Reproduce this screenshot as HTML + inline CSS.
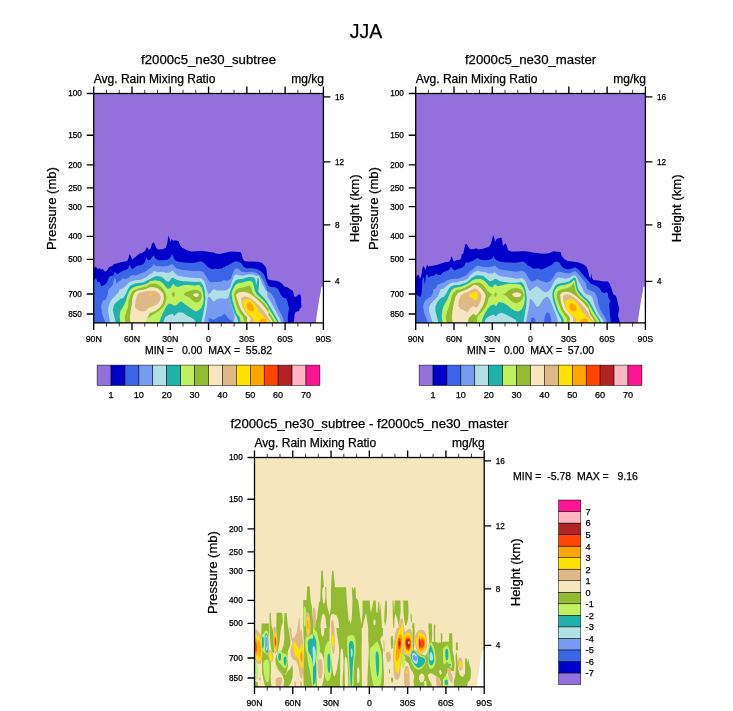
<!DOCTYPE html>
<html lang="en">
<head>
<meta charset="utf-8">
<title>JJA</title>
<style>
html,body{margin:0;padding:0;background:#fff;}
body{width:733px;height:711px;overflow:hidden;}
svg{display:block;}
text{font-family:"Liberation Sans", Arial, Helvetica, sans-serif;fill:#000;white-space:pre;stroke:#000;stroke-width:0.25px;}
</style>
</head>
<body>
<svg width="733" height="711" viewBox="0 0 733 711">
<defs><clipPath id="clipP"><rect x="93.7" y="93.5" width="229.70" height="229.40"/></clipPath></defs>
<rect width="733" height="711" fill="#fff"/>
<text x="366" y="38.3" font-size="19.5" text-anchor="middle">JJA</text>
<g transform="translate(0.00,0.00)">
<rect x="93.7" y="93.5" width="229.70" height="229.40" fill="#9370DB"/>
<g clip-path="url(#clipP)">
<path d="M93.0 268.2L94.4 268.2L95.7 266.6L97.6 268.9L99.5 268.2L101.4 269.8L102.7 268.9L104.9 271.7L107.1 270.4L109.0 267.3L112.2 266.0L114.1 263.9L116.6 263.5L119.7 262.6L123.5 261.8L127.3 260.9L128.6 257.8L129.6 254.0L130.8 255.9L132.4 259.7L134.3 257.8L137.5 255.3L139.4 253.7L142.5 252.7L145.1 250.8L147.0 247.0L148.5 249.6L150.5 248.9L152.0 243.9L153.3 242.3L154.8 243.9L156.1 247.7L158.2 249.6L162.7 249.2L165.8 247.7L167.1 243.9L168.0 238.8L168.6 235.6L169.6 238.8L170.3 242.0L171.5 239.1L173.4 240.7L175.9 240.3L178.5 241.3L180.4 245.8L182.3 247.7L186.7 250.2L191.8 251.5L196.8 251.2L200.6 250.8L204.4 251.2L209.5 252.1L214.6 252.7L215.1 253.4L220.1 254.0L225.2 252.7L230.3 251.5L235.3 251.7L240.4 252.1L241.6 254.0L242.7 258.4L244.2 260.9L248.0 261.6L253.0 261.6L258.1 261.8L261.9 262.8L264.4 265.4L266.3 267.9L266.9 274.2L267.8 279.3L271.3 280.3L276.4 280.8L279.6 281.8L282.1 283.7L284.0 286.3L287.8 287.5L290.3 289.4L292.8 290.7L293.9 294.5L294.7 297.0L296.6 296.4L298.5 294.5L300.2 294.2L301.1 297.0L301.1 303.4L301.5 307.2L299.8 308.4L299.2 310.9L297.3 311.6L295.4 312.2L294.4 314.7L293.9 323.6L93.0 324.0Z" fill="#0000C8"/>
<path d="M93.0 279.9L94.4 279.9L96.1 278.0L97.6 282.5L99.5 281.8L101.4 286.3L103.3 285.6L105.2 284.4L107.1 282.5L108.4 278.0L110.3 276.1L113.4 275.5L114.7 271.7L115.9 273.0L117.2 274.2L120.4 272.3L123.5 270.4L126.7 269.8L128.0 268.5L129.5 264.7L130.8 267.3L132.4 269.2L134.9 267.3L137.5 265.4L140.6 265.4L143.2 264.1L145.1 261.6L146.3 257.2L148.0 260.3L150.1 259.7L152.0 257.2L153.3 255.3L154.8 257.2L155.7 259.1L158.9 260.3L162.7 260.3L167.7 259.7L170.3 257.8L171.8 254.0L173.0 255.9L174.7 259.7L177.2 261.6L181.6 262.2L188.0 262.8L193.0 263.1L196.8 262.2L200.6 261.3L203.2 262.2L205.7 264.7L208.2 267.3L212.0 269.2L215.8 268.5L217.6 268.9L221.4 268.5L225.2 266.6L229.0 264.7L232.8 262.6L235.3 261.3L238.5 261.8L241.6 263.5L243.2 266.6L246.7 268.2L251.8 268.2L256.8 268.9L260.6 271.1L263.8 274.2L265.0 276.8L266.5 281.2L268.2 285.6L270.7 286.9L275.1 287.2L277.7 288.8L279.6 292.0L280.8 295.1L283.4 297.7L285.9 298.3L287.2 300.8L288.0 304.6L289.1 308.4L288.4 312.2L287.8 317.3L287.8 323.6L93.0 324.0Z" fill="#3C64E6"/>
<path d="M105.8 323.6L103.9 318.5L102.0 313.5L101.1 305.9L102.7 300.8L105.8 299.6L107.7 294.5L108.4 289.4L110.9 286.9L112.8 285.0L114.1 279.3L114.8 277.4L115.7 279.3L116.3 283.7L118.5 281.8L121.0 279.9L122.9 278.0L124.8 279.3L128.0 278.0L130.3 276.1L133.0 274.9L135.6 275.5L138.7 274.2L141.9 273.0L144.4 272.3L147.0 270.4L148.9 268.5L150.8 267.9L153.3 264.7L154.6 264.1L154.4 265.4L157.6 266.0L162.7 266.6L167.7 266.0L170.9 264.7L172.5 264.1L174.1 266.0L176.6 268.5L181.6 269.8L188.0 270.4L194.3 271.1L199.4 270.7L203.2 271.7L205.7 275.5L208.2 279.9L210.8 282.5L214.6 281.8L217.0 282.1L221.4 281.6L223.9 279.9L227.7 280.8L230.9 278.7L232.8 273.0L234.7 269.2L236.6 268.2L239.1 269.4L241.6 271.7L246.7 272.3L251.8 271.7L256.8 273.0L260.6 276.1L263.2 280.6L265.7 285.6L266.9 290.7L269.4 292.6L272.0 294.5L273.9 297.7L275.8 302.1L277.0 305.9L278.9 310.3L281.5 314.7L283.4 319.2L284.0 323.6Z" fill="#789BF2"/>
<path d="M110.3 323.6L109.0 316.0L108.0 309.7L109.0 304.6L110.9 300.8L112.8 298.3L115.3 295.8L118.5 292.6L119.7 289.4L122.9 288.2L126.1 285.6L129.2 282.5L131.8 281.2L135.6 279.9L140.0 279.9L143.2 278.7L147.0 276.8L149.5 274.2L152.7 273.0L152.5 271.7L154.4 271.1L157.6 272.3L162.7 271.7L166.5 273.0L170.3 272.3L172.8 270.4L174.7 273.0L177.8 275.5L182.9 276.8L189.2 277.4L195.6 278.0L200.6 278.0L203.8 280.6L205.7 285.6L207.0 290.7L208.2 294.5L210.8 292.6L212.5 290.1L214.4 289.2L217.0 290.7L220.1 290.4L223.9 290.7L227.7 289.4L230.3 286.9L232.2 280.6L234.1 276.1L235.9 274.5L239.1 275.3L242.9 275.8L248.0 274.5L253.0 274.2L256.2 276.1L258.1 275.3L260.0 278.0L261.9 283.1L264.4 288.2L267.0 292.0L267.5 297.0L270.1 300.8L272.6 305.3L275.1 309.7L277.7 314.7L280.2 319.2L281.5 323.6Z" fill="#B0E0E6"/>
<path d="M203.8 323.6L205.7 313.5L207.0 305.9L207.6 298.3L208.9 296.4L210.8 298.3L212.5 300.8L214.4 301.5L217.0 298.9L221.4 298.3L225.2 298.9L227.7 298.3L229.2 295.1L230.9 302.1L232.8 309.7L234.7 316.0L234.1 323.6Z" fill="#789BF2"/>
<path d="M208.7 323.6L208.7 317.9L210.0 318.5L213.8 319.8L217.6 317.3L221.4 316.0L224.6 313.5L226.5 316.0L229.0 319.2L232.2 321.1L233.4 323.6Z" fill="#3C64E6"/>
<path d="M115.9 323.6L114.1 316.0L112.8 309.7L114.1 304.6L117.2 301.5L120.4 298.9L123.5 297.7L126.1 293.2L128.0 288.8L130.5 285.6L134.3 283.7L138.1 283.1L143.2 282.5L147.0 280.6L150.8 278.7L152.5 277.4L156.3 276.1L161.4 276.8L163.9 278.7L166.5 281.2L169.0 281.8L170.9 278.7L172.8 277.4L174.7 278.7L177.2 279.9L182.9 281.2L189.2 281.6L195.6 282.1L200.6 281.8L203.2 285.6L204.7 290.7L205.4 298.3L204.7 305.9L203.2 313.5L201.3 323.6Z" fill="#20B2AA"/>
<path d="M162.7 323.6L165.2 317.3L169.0 314.7L172.8 314.1L174.7 316.0L175.9 314.1L179.1 312.2L182.9 312.8L186.7 315.4L190.5 317.3L194.3 319.8L196.2 323.6Z" fill="#B0E0E6"/>
<path d="M238.5 323.6L237.2 317.9L234.7 314.1L232.5 307.8L230.5 300.8L229.2 294.2L230.9 289.4L232.8 284.4L235.3 280.6L238.5 279.3L242.9 278.7L246.7 277.4L250.5 276.8L253.7 277.4L255.3 279.3L256.2 285.6L257.8 278.0L258.7 278.7L259.1 283.1L258.7 288.2L258.1 291.3L260.6 294.5L264.4 298.3L268.2 303.4L267.5 302.7L270.7 307.8L273.9 313.5L277.0 318.5L279.2 323.6Z" fill="#20B2AA"/>
<path d="M120.4 323.6L119.7 316.0L120.4 310.9L123.5 305.9L126.1 300.8L127.3 295.8L129.2 291.3L131.8 288.2L136.2 286.3L140.6 285.6L144.4 284.4L148.2 283.1L150.0 281.2L155.1 280.3L160.1 281.2L162.7 283.1L165.2 286.3L167.7 288.8L170.3 288.2L172.2 285.0L173.4 283.7L174.7 285.6L177.2 286.9L180.4 286.3L184.2 285.0L189.2 285.0L194.3 285.4L199.4 285.0L201.9 288.2L203.2 293.2L203.8 298.3L203.2 303.4L201.3 307.8L198.7 310.3L195.6 311.6L193.0 309.7L189.2 307.2L185.4 304.6L181.6 301.5L179.7 302.1L177.2 304.6L174.7 305.9L172.2 304.6L169.0 303.4L167.1 305.3L165.2 308.4L162.7 313.5L160.8 317.9L158.9 323.6Z" fill="#BEF060"/>
<path d="M241.0 323.6L239.7 317.3L236.6 313.5L234.7 307.8L232.5 300.8L231.5 293.9L232.8 289.4L235.3 285.0L238.5 283.1L242.9 282.5L246.7 281.2L249.9 280.8L252.4 282.1L253.7 285.6L254.9 290.7L256.8 294.5L260.6 297.7L264.4 301.5L268.2 306.5L268.2 307.2L272.0 313.5L275.1 318.5L277.7 323.6Z" fill="#BEF060"/>
<path d="M125.4 323.6L124.8 317.3L126.1 312.2L128.0 307.2L128.6 300.8L130.5 294.5L133.0 290.7L137.5 288.8L141.9 287.5L147.0 286.3L150.0 283.7L153.8 283.4L157.6 284.6L161.4 286.9L163.9 290.1L165.8 293.9L166.5 298.3L165.2 303.4L162.7 307.8L158.9 310.9L155.1 313.5L150.0 316.6L147.0 318.5L145.7 323.6Z" fill="#93BB32"/>
<path d="M172.5 292.6L174.1 292.0L175.1 293.9L174.3 296.4L172.8 296.8L171.8 294.5Z" fill="#93BB32"/>
<path d="M183.5 293.9L186.1 292.0L190.5 290.7L194.3 289.7L198.1 290.1L200.6 292.0L201.9 295.1L201.3 298.9L199.4 301.5L196.2 302.7L193.7 301.5L191.1 298.9L188.6 297.0L185.4 295.8Z" fill="#93BB32"/>
<path d="M244.8 323.6L242.9 316.6L239.7 312.8L237.2 307.2L235.3 300.8L234.1 294.5L235.3 290.7L238.5 288.2L242.9 287.5L246.7 286.3L249.5 285.6L251.1 287.5L252.4 292.0L254.3 295.1L257.5 297.7L261.3 300.8L265.1 304.6L268.9 309.7L268.2 310.9L271.3 316.0L274.5 321.1L275.4 323.6Z" fill="#93BB32"/>
<path d="M130.5 323.6L129.9 317.3L130.5 310.9L131.8 304.6L132.4 298.3L133.7 293.9L136.2 291.3L140.6 290.1L144.4 289.4L149.5 287.5L150.0 286.9L153.8 287.2L157.6 288.2L160.8 290.7L163.3 293.9L163.9 298.3L162.7 303.4L160.1 307.2L156.3 310.3L152.5 312.2L150.0 312.8L147.0 318.5L145.7 323.6Z" fill="#F5E6BE"/>
<path d="M193.0 294.5L194.9 293.2L197.5 293.2L199.1 294.5L198.1 296.4L195.6 297.0L193.7 296.0Z" fill="#F5E6BE"/>
<path d="M246.7 323.6L247.3 317.3L244.2 314.1L241.0 309.7L238.9 304.6L237.2 299.6L235.9 295.1L238.5 292.6L242.9 291.7L246.7 292.2L250.5 293.9L254.3 297.0L258.1 300.2L261.9 304.0L265.7 308.4L268.9 312.8L268.2 314.7L271.3 319.2L273.6 323.6Z" fill="#F5E6BE"/>
<path d="M134.9 305.9L135.6 300.8L136.8 295.8L138.7 293.0L143.2 292.0L147.0 291.3L150.8 290.7L150.0 291.3L153.8 290.7L157.0 291.7L159.5 293.9L160.8 297.0L159.9 300.8L157.6 304.0L153.8 305.9L150.0 307.2L147.0 309.1L145.7 310.9L142.5 311.6L140.0 310.9L137.5 309.7L135.6 308.4Z" fill="#DEB887"/>
<path d="M249.9 323.6L250.5 317.9L248.0 315.4L244.8 311.6L242.7 307.2L241.4 302.1L241.0 297.7L244.2 296.4L248.0 297.0L251.8 298.9L255.6 302.1L259.4 305.9L263.2 310.3L266.3 314.7L268.2 317.9L270.7 321.1L272.0 323.6Z" fill="#DEB887"/>
<path d="M149.2 294.1L152.0 294.1L150.8 296.6Z" fill="#FFE100"/>
<path d="M253.7 323.6L253.7 319.2L251.1 316.6L248.0 314.1L245.2 310.3L243.5 305.9L243.5 300.8L246.7 298.9L250.5 299.8L253.7 302.7L256.2 306.5L258.7 310.9L261.9 314.7L265.7 317.9L267.5 319.8L270.1 321.7L270.7 323.6Z" fill="#FFE100"/>
<path d="M246.7 304.6L248.0 302.7L250.3 302.1L252.4 304.6L254.3 308.4L253.7 310.9L251.1 311.6L248.6 310.3L247.0 307.8Z" fill="#FFA500"/>
<path d="M259.4 323.6L259.4 321.1L260.6 319.2L263.8 318.5L267.0 319.8L265.0 319.8L266.9 321.5L267.5 323.6Z" fill="#FFA500"/>
<path d="M321.3 286.6L324.5 286.6L324.5 323.6L315.9 323.6L316.3 318.5L317.2 312.2L318.2 305.9L319.4 298.3L320.7 292.0Z" fill="#fff"/>
</g>
<rect x="93.7" y="93.5" width="229.70" height="229.40" fill="none" stroke="#000" stroke-width="1.3"/>
<path d="M93.70 322.9v7 M93.70 93.5v-7 M131.98 322.9v7 M131.98 93.5v-7 M170.27 322.9v7 M170.27 93.5v-7 M208.55 322.9v7 M208.55 93.5v-7 M246.83 322.9v7 M246.83 93.5v-7 M285.12 322.9v7 M285.12 93.5v-7 M323.40 322.9v7 M323.40 93.5v-7 M93.7 93.50h-7 M93.7 135.28h-7 M93.7 164.92h-7 M93.7 187.91h-7 M93.7 206.69h-7 M93.7 236.34h-7 M93.7 259.33h-7 M93.7 294.00h-7 M93.7 314.00h-7 M323.4 96.90h7 M323.4 161.90h7 M323.4 224.80h7 M323.4 281.40h7" stroke="#000" stroke-width="1.35" fill="none"/>
<path d="M106.46 322.9v3.7 M106.46 93.5v-3.7 M119.22 322.9v3.7 M119.22 93.5v-3.7 M144.74 322.9v3.7 M144.74 93.5v-3.7 M157.51 322.9v3.7 M157.51 93.5v-3.7 M183.03 322.9v3.7 M183.03 93.5v-3.7 M195.79 322.9v3.7 M195.79 93.5v-3.7 M221.31 322.9v3.7 M221.31 93.5v-3.7 M234.07 322.9v3.7 M234.07 93.5v-3.7 M259.59 322.9v3.7 M259.59 93.5v-3.7 M272.36 322.9v3.7 M272.36 93.5v-3.7 M297.88 322.9v3.7 M297.88 93.5v-3.7 M310.64 322.9v3.7 M310.64 93.5v-3.7" stroke="#000" stroke-width="0.75" fill="none"/>
<text x="81.9" y="96.40" font-size="8.2" text-anchor="end">100</text>
<text x="81.9" y="138.18" font-size="8.2" text-anchor="end">150</text>
<text x="81.9" y="167.82" font-size="8.2" text-anchor="end">200</text>
<text x="81.9" y="190.81" font-size="8.2" text-anchor="end">250</text>
<text x="81.9" y="209.59" font-size="8.2" text-anchor="end">300</text>
<text x="81.9" y="239.24" font-size="8.2" text-anchor="end">400</text>
<text x="81.9" y="262.23" font-size="8.2" text-anchor="end">500</text>
<text x="81.9" y="296.90" font-size="8.2" text-anchor="end">700</text>
<text x="81.9" y="316.90" font-size="8.2" text-anchor="end">850</text>
<text x="335" y="99.80" font-size="8.2">16</text>
<text x="335" y="164.80" font-size="8.2">12</text>
<text x="335" y="227.70" font-size="8.2">8</text>
<text x="335" y="284.30" font-size="8.2">4</text>
<text x="93.70" y="341.7" font-size="8.8" text-anchor="middle">90N</text>
<text x="131.98" y="341.7" font-size="8.8" text-anchor="middle">60N</text>
<text x="170.27" y="341.7" font-size="8.8" text-anchor="middle">30N</text>
<text x="208.55" y="341.7" font-size="8.8" text-anchor="middle">0</text>
<text x="246.83" y="341.7" font-size="8.8" text-anchor="middle">30S</text>
<text x="285.12" y="341.7" font-size="8.8" text-anchor="middle">60S</text>
<text x="323.40" y="341.7" font-size="8.8" text-anchor="middle">90S</text>
<text transform="translate(56.4,208.5) rotate(-90)" font-size="13.1" text-anchor="middle">Pressure (mb)</text>
<text transform="translate(359.3,208.3) rotate(-90)" font-size="13.1" text-anchor="middle">Height (km)</text>
<text x="208.55" y="64" font-size="13.2" text-anchor="middle">f2000c5_ne30_subtree</text>
<text x="93.7" y="83" font-size="12.05" text-anchor="start">Avg. Rain Mixing Ratio</text>
<text x="324.0" y="83" font-size="12.05" text-anchor="end">mg/kg</text>
</g>
<g transform="translate(322.00,0.00)">
<rect x="93.7" y="93.5" width="229.70" height="229.40" fill="#9370DB"/>
<g clip-path="url(#clipP)">
<path d="M93.0 276.8L94.4 276.8L95.7 274.5L97.0 275.5L98.2 279.3L99.5 274.2L100.4 267.9L101.6 266.0L102.7 267.9L103.3 270.4L104.6 266.0L105.4 264.7L106.5 266.6L109.0 266.0L112.2 265.4L115.3 264.7L119.1 263.5L122.9 262.2L127.3 261.6L128.6 259.1L129.6 256.3L130.5 258.4L131.8 261.6L134.3 260.3L137.5 259.7L139.1 258.4L139.6 254.6L141.3 253.4L142.2 248.9L143.2 244.5L144.4 243.9L145.7 245.8L147.0 248.3L149.5 249.6L152.0 248.9L154.6 248.3L156.3 249.6L160.1 248.9L163.9 247.7L166.5 247.0L168.4 245.1L169.6 241.3L170.5 237.5L171.3 235.0L172.2 237.5L173.0 242.0L174.1 239.4L175.3 238.5L177.2 238.2L179.1 237.3L180.1 240.1L181.0 246.4L182.3 244.5L183.5 243.2L184.8 245.8L186.1 250.2L189.2 251.5L194.3 251.5L199.4 251.2L203.2 251.2L207.0 251.7L212.0 252.7L215.1 253.0L220.1 253.7L225.2 253.4L229.0 252.5L231.5 251.2L235.3 251.7L238.5 252.1L239.7 255.9L241.6 258.4L245.4 260.9L250.5 261.6L255.6 262.2L260.6 263.9L264.4 266.6L266.3 271.7L267.3 276.8L268.5 278.7L269.2 273.6L270.1 278.0L271.3 279.9L276.4 280.6L281.5 281.6L285.3 281.2L287.2 283.1L289.1 286.9L290.3 291.3L291.6 294.5L293.9 295.8L295.1 299.6L296.0 304.0L297.3 308.4L296.6 312.2L296.0 316.0L297.3 319.8L298.2 323.6L93.0 324.0Z" fill="#0000C8"/>
<path d="M93.0 294.5L94.4 294.5L96.3 295.8L98.2 297.0L99.5 294.5L100.1 288.2L100.4 280.6L101.1 276.8L102.0 278.7L102.7 284.4L103.3 281.8L103.9 275.5L105.2 274.2L106.5 277.4L109.0 276.1L112.2 275.5L114.7 273.6L115.9 274.9L118.5 274.9L121.0 272.3L124.2 271.1L127.3 269.8L129.2 266.6L130.5 268.5L132.4 270.4L134.9 269.2L138.1 268.2L140.6 267.3L142.5 265.4L143.8 262.2L145.7 262.8L148.2 261.8L152.0 260.3L154.6 258.4L155.1 258.0L158.9 259.7L162.7 260.3L167.7 259.7L170.3 258.4L171.5 255.9L172.8 258.4L174.7 260.3L177.8 261.6L182.9 262.2L188.0 262.6L193.0 262.8L196.8 262.2L200.6 261.6L203.2 262.8L205.7 265.4L208.2 266.6L210.8 268.5L213.3 268.5L216.3 268.2L219.5 269.4L222.7 268.2L226.5 266.4L229.6 264.7L232.2 262.6L234.7 261.6L237.2 262.6L239.1 265.4L241.6 267.9L246.1 269.4L250.5 268.2L253.0 267.3L256.2 269.2L258.7 271.7L261.3 274.9L263.8 278.0L266.9 281.2L268.8 283.7L272.0 285.0L275.1 286.3L277.7 288.2L279.6 292.0L282.7 293.2L284.0 292.0L285.9 293.2L286.5 298.3L288.4 300.8L287.2 304.0L287.5 308.4L287.8 313.5L288.4 318.5L288.8 323.6L93.0 324.0Z" fill="#3C64E6"/>
<path d="M105.8 323.6L103.9 317.3L102.0 312.2L101.1 305.9L102.7 301.5L105.8 298.3L109.0 296.4L110.9 293.2L111.5 289.4L114.1 288.2L115.3 285.0L117.8 283.7L121.6 282.8L124.8 280.6L128.0 279.3L131.8 278.7L135.6 278.7L139.4 277.4L143.2 276.1L146.3 273.6L148.2 271.1L150.8 269.2L153.3 267.3L155.1 265.4L157.6 266.0L161.4 266.9L166.5 267.3L170.3 266.4L172.8 265.4L174.7 267.3L177.2 269.2L182.9 270.2L188.0 271.1L194.3 271.7L199.4 270.7L202.5 271.7L205.1 275.5L207.6 279.9L210.1 281.8L213.3 280.6L215.1 279.1L217.6 280.3L221.4 281.8L225.2 282.5L229.0 280.6L231.5 276.8L233.4 273.6L235.9 271.7L239.1 272.0L242.9 273.0L246.7 273.6L250.5 272.3L253.0 271.1L255.6 273.0L258.1 276.1L260.6 279.3L263.8 283.1L265.0 288.8L267.5 290.1L270.1 291.3L272.6 292.6L274.5 295.8L275.8 299.6L276.4 304.0L277.7 308.4L279.6 312.2L282.1 316.0L284.0 319.2L285.0 323.6Z" fill="#789BF2"/>
<path d="M110.9 323.6L109.0 317.3L107.1 310.9L107.1 307.2L109.0 303.4L112.2 300.2L115.3 297.0L117.2 293.2L118.5 289.4L121.6 288.8L124.2 286.3L127.3 283.7L130.5 282.5L134.3 282.5L138.1 281.2L141.9 280.6L145.7 278.7L148.2 275.5L150.8 273.0L153.3 271.7L155.7 270.4L158.9 271.7L162.7 272.0L166.5 273.6L170.3 273.6L172.8 272.3L174.7 274.2L177.8 276.1L182.9 276.8L188.0 277.4L194.3 278.7L200.0 278.0L203.2 280.6L205.1 285.6L207.0 290.7L208.2 290.7L210.8 288.8L213.3 286.9L215.1 286.3L217.6 288.2L220.8 291.3L223.9 292.6L227.1 290.7L229.6 286.9L231.5 282.5L234.1 278.7L236.6 277.4L240.4 278.0L244.2 278.7L248.0 277.4L251.1 275.5L253.7 275.5L255.6 278.7L256.8 281.8L258.7 285.0L260.6 288.2L261.9 292.0L264.4 294.5L265.0 294.5L267.5 295.1L270.1 297.0L271.3 300.8L272.6 305.3L274.5 309.7L276.4 313.5L278.9 317.3L280.8 319.8L282.1 323.6Z" fill="#B0E0E6"/>
<path d="M203.8 323.6L205.7 313.5L207.2 305.9L208.0 298.3L210.8 300.8L213.3 304.6L215.1 307.2L217.6 305.3L220.1 300.8L222.7 297.7L225.2 296.4L227.1 298.3L229.0 302.1L230.9 307.2L233.4 313.5L235.3 317.9L235.9 323.6Z" fill="#789BF2"/>
<path d="M222.0 323.6L222.7 317.3L223.9 313.5L225.8 312.2L227.7 314.1L229.0 318.5L229.6 323.6Z" fill="#3C64E6"/>
<path d="M208.7 323.6L208.7 318.5L211.3 317.3L213.2 319.2L213.8 323.6Z" fill="#3C64E6"/>
<path d="M116.6 323.6L114.7 316.0L113.4 310.9L113.4 306.5L115.3 302.1L118.5 298.3L122.3 296.4L124.8 292.6L126.7 288.8L129.2 286.3L133.0 285.0L136.8 285.0L140.6 283.7L144.4 282.5L147.6 279.9L150.1 277.4L153.3 276.1L153.2 275.5L157.6 275.3L161.4 276.1L164.6 278.7L167.7 281.2L170.9 280.6L172.8 278.7L174.7 279.3L177.8 281.2L182.9 282.1L188.0 282.8L194.3 282.8L199.4 282.1L201.9 285.0L203.8 290.7L204.7 298.3L204.2 305.9L202.9 313.5L201.3 323.6Z" fill="#20B2AA"/>
<path d="M162.0 323.6L163.9 318.5L167.7 316.0L171.5 314.7L174.1 316.6L175.9 314.1L179.1 312.8L182.9 314.1L186.7 316.0L190.5 317.9L193.7 319.8L195.6 323.6Z" fill="#B0E0E6"/>
<path d="M239.7 323.6L239.1 319.2L237.2 316.0L234.7 310.9L232.5 305.3L230.9 299.6L230.3 293.9L231.3 289.4L233.4 285.6L235.9 283.7L239.7 283.1L243.5 282.5L247.3 281.2L249.9 279.3L251.8 277.4L253.7 278.0L254.6 281.2L255.3 285.6L256.2 289.4L258.7 292.6L261.9 296.4L265.7 299.6L267.5 301.5L270.1 305.9L272.6 310.9L275.1 315.4L277.7 319.2L279.6 323.6Z" fill="#20B2AA"/>
<path d="M120.4 323.6L119.7 316.0L120.4 309.7L122.3 304.6L125.4 299.6L127.3 294.5L129.2 290.7L131.8 288.2L135.6 287.2L139.4 286.6L143.2 285.0L147.0 283.1L150.1 280.6L153.3 279.1L153.8 279.3L158.2 278.7L162.0 280.6L164.6 283.1L167.1 286.3L170.3 287.5L172.2 285.0L173.8 284.4L175.3 286.3L179.1 285.6L182.9 284.6L188.0 283.7L193.0 284.1L198.1 284.6L200.6 286.9L202.5 292.0L202.9 298.3L202.2 304.0L200.0 309.1L196.8 311.6L193.0 310.9L189.2 308.4L185.4 305.3L181.0 302.7L177.2 302.1L175.3 304.0L174.1 306.5L172.2 304.6L169.0 305.3L165.8 308.4L163.3 312.8L160.8 317.9L159.5 323.6Z" fill="#BEF060"/>
<path d="M241.6 323.6L241.6 319.2L239.7 316.0L236.8 311.6L234.7 305.9L232.8 299.6L231.8 293.9L233.0 290.1L235.3 286.9L238.5 285.6L242.9 285.0L246.7 283.7L249.9 282.1L251.5 279.9L253.0 281.2L253.7 285.6L254.6 290.1L257.1 293.9L260.6 297.7L264.4 300.8L267.5 305.3L270.7 310.9L273.9 316.0L276.4 319.8L277.9 323.6Z" fill="#BEF060"/>
<path d="M124.8 323.6L123.9 317.3L124.8 312.2L126.7 307.2L128.6 300.8L129.9 295.8L131.8 292.6L134.9 290.1L138.7 289.4L143.2 287.5L147.0 285.6L150.1 283.7L153.8 282.8L157.6 282.5L160.8 284.4L163.3 287.5L165.8 291.3L168.4 293.2L170.3 294.5L168.4 296.4L166.5 298.3L165.2 303.4L162.7 308.4L159.5 312.2L156.3 315.4L155.1 318.5L154.8 323.6Z" fill="#93BB32"/>
<path d="M172.5 293.2L173.8 292.2L174.8 293.9L174.3 296.4L173.0 297.0L172.0 295.1Z" fill="#93BB32"/>
<path d="M180.4 294.2L183.5 293.2L186.1 290.7L189.2 288.8L193.7 287.9L198.1 288.8L200.6 291.3L201.9 295.1L200.6 298.9L198.1 301.8L194.3 303.4L190.5 302.1L187.3 298.9L184.8 296.4L182.3 295.1Z" fill="#93BB32"/>
<path d="M245.4 323.6L244.8 317.9L242.3 314.7L239.4 310.3L237.2 305.3L235.3 299.6L234.7 294.5L235.9 291.3L238.5 289.4L242.9 288.8L246.7 287.5L249.9 285.6L251.8 282.5L252.8 285.6L253.3 290.1L255.6 294.5L258.7 297.7L262.5 300.8L266.3 304.6L268.2 310.9L271.3 316.0L273.9 319.8L275.8 323.6Z" fill="#93BB32"/>
<path d="M130.5 323.6L129.9 317.3L130.3 312.2L131.1 307.2L132.4 300.8L133.7 296.4L135.6 293.2L138.7 291.7L143.2 290.1L147.0 288.2L150.8 285.6L152.5 284.4L155.7 285.6L158.9 288.2L162.0 292.0L163.7 295.8L162.7 300.8L160.8 305.9L158.2 310.3L155.7 314.1L153.8 315.4L151.3 313.5L149.5 315.4L146.7 317.9L145.7 323.6Z" fill="#F5E6BE"/>
<path d="M189.9 294.2L191.8 293.0L194.9 292.3L198.1 293.2L199.6 294.7L198.1 296.4L194.9 297.3L191.8 296.8Z" fill="#F5E6BE"/>
<path d="M247.3 323.6L248.0 319.2L247.3 316.6L244.4 313.5L241.6 309.7L239.7 304.6L238.5 299.6L238.1 294.5L240.4 292.2L244.2 291.7L248.0 292.2L251.8 294.5L254.9 297.0L258.7 300.2L262.5 304.0L266.3 308.4L268.2 314.7L271.3 319.2L273.6 323.6Z" fill="#F5E6BE"/>
<path d="M136.2 305.9L136.8 300.8L138.7 295.8L141.9 293.2L145.7 292.0L149.5 290.1L152.7 288.2L154.4 288.8L157.0 291.3L159.5 295.1L159.1 299.6L157.6 303.4L155.7 306.5L153.8 307.8L151.3 305.9L148.9 307.8L147.0 309.7L145.7 312.2L143.2 310.9L140.6 309.7L138.1 308.4Z" fill="#DEB887"/>
<path d="M250.5 323.6L251.1 319.2L250.5 316.6L248.0 314.1L244.8 310.3L242.7 305.9L241.4 300.8L241.0 295.8L244.2 294.2L248.0 295.1L251.8 297.0L255.6 300.2L259.4 304.0L263.2 308.4L266.3 312.8L268.2 317.3L270.7 320.4L272.3 323.6Z" fill="#DEB887"/>
<path d="M146.7 294.2L149.5 293.2L152.7 292.0L155.2 292.0L156.1 294.5L155.8 298.3L153.9 300.8L152.0 299.6L150.1 297.7L147.6 297.0Z" fill="#FFE100"/>
<path d="M144.1 300.2L144.9 300.2L144.6 301.5Z" fill="#FFE100"/>
<path d="M253.7 323.6L254.3 320.4L253.7 317.9L251.1 316.0L248.0 313.5L245.2 310.3L243.5 305.9L243.5 301.5L246.1 299.6L249.9 299.3L253.0 300.8L255.6 304.0L258.1 308.4L260.6 312.2L263.8 315.4L267.5 319.2L270.1 321.5L270.7 323.6Z" fill="#FFE100"/>
<path d="M247.3 304.6L249.0 303.1L251.1 303.4L253.7 305.9L254.9 309.1L253.7 310.9L251.1 311.6L248.6 310.3L247.3 307.8Z" fill="#FFA500"/>
<path d="M258.1 323.6L258.7 320.1L260.6 318.8L263.8 318.5L266.3 319.6L265.0 320.1L266.5 321.5L267.3 323.6Z" fill="#FFA500"/>
<path d="M321.3 286.6L324.5 286.6L324.5 323.6L315.9 323.6L316.3 318.5L317.2 312.2L318.2 305.9L319.4 298.3L320.7 292.0Z" fill="#fff"/>
</g>
<rect x="93.7" y="93.5" width="229.70" height="229.40" fill="none" stroke="#000" stroke-width="1.3"/>
<path d="M93.70 322.9v7 M93.70 93.5v-7 M131.98 322.9v7 M131.98 93.5v-7 M170.27 322.9v7 M170.27 93.5v-7 M208.55 322.9v7 M208.55 93.5v-7 M246.83 322.9v7 M246.83 93.5v-7 M285.12 322.9v7 M285.12 93.5v-7 M323.40 322.9v7 M323.40 93.5v-7 M93.7 93.50h-7 M93.7 135.28h-7 M93.7 164.92h-7 M93.7 187.91h-7 M93.7 206.69h-7 M93.7 236.34h-7 M93.7 259.33h-7 M93.7 294.00h-7 M93.7 314.00h-7 M323.4 96.90h7 M323.4 161.90h7 M323.4 224.80h7 M323.4 281.40h7" stroke="#000" stroke-width="1.35" fill="none"/>
<path d="M106.46 322.9v3.7 M106.46 93.5v-3.7 M119.22 322.9v3.7 M119.22 93.5v-3.7 M144.74 322.9v3.7 M144.74 93.5v-3.7 M157.51 322.9v3.7 M157.51 93.5v-3.7 M183.03 322.9v3.7 M183.03 93.5v-3.7 M195.79 322.9v3.7 M195.79 93.5v-3.7 M221.31 322.9v3.7 M221.31 93.5v-3.7 M234.07 322.9v3.7 M234.07 93.5v-3.7 M259.59 322.9v3.7 M259.59 93.5v-3.7 M272.36 322.9v3.7 M272.36 93.5v-3.7 M297.88 322.9v3.7 M297.88 93.5v-3.7 M310.64 322.9v3.7 M310.64 93.5v-3.7" stroke="#000" stroke-width="0.75" fill="none"/>
<text x="81.9" y="96.40" font-size="8.2" text-anchor="end">100</text>
<text x="81.9" y="138.18" font-size="8.2" text-anchor="end">150</text>
<text x="81.9" y="167.82" font-size="8.2" text-anchor="end">200</text>
<text x="81.9" y="190.81" font-size="8.2" text-anchor="end">250</text>
<text x="81.9" y="209.59" font-size="8.2" text-anchor="end">300</text>
<text x="81.9" y="239.24" font-size="8.2" text-anchor="end">400</text>
<text x="81.9" y="262.23" font-size="8.2" text-anchor="end">500</text>
<text x="81.9" y="296.90" font-size="8.2" text-anchor="end">700</text>
<text x="81.9" y="316.90" font-size="8.2" text-anchor="end">850</text>
<text x="335" y="99.80" font-size="8.2">16</text>
<text x="335" y="164.80" font-size="8.2">12</text>
<text x="335" y="227.70" font-size="8.2">8</text>
<text x="335" y="284.30" font-size="8.2">4</text>
<text x="93.70" y="341.7" font-size="8.8" text-anchor="middle">90N</text>
<text x="131.98" y="341.7" font-size="8.8" text-anchor="middle">60N</text>
<text x="170.27" y="341.7" font-size="8.8" text-anchor="middle">30N</text>
<text x="208.55" y="341.7" font-size="8.8" text-anchor="middle">0</text>
<text x="246.83" y="341.7" font-size="8.8" text-anchor="middle">30S</text>
<text x="285.12" y="341.7" font-size="8.8" text-anchor="middle">60S</text>
<text x="323.40" y="341.7" font-size="8.8" text-anchor="middle">90S</text>
<text transform="translate(56.4,208.5) rotate(-90)" font-size="13.1" text-anchor="middle">Pressure (mb)</text>
<text transform="translate(359.3,208.3) rotate(-90)" font-size="13.1" text-anchor="middle">Height (km)</text>
<text x="208.55" y="64" font-size="13.2" text-anchor="middle">f2000c5_ne30_master</text>
<text x="93.7" y="83" font-size="12.05" text-anchor="start">Avg. Rain Mixing Ratio</text>
<text x="324.0" y="83" font-size="12.05" text-anchor="end">mg/kg</text>
</g>
<g transform="translate(160.80,364.00)">
<rect x="93.7" y="93.5" width="229.70" height="229.40" fill="#F5E6BE"/>
<g clip-path="url(#clipP)">
<clipPath id="k1"><rect x="89.20" y="196.00" width="63.00" height="130.00"/></clipPath><g clip-path="url(#k1)"><path d="M100.8 259.4L108.2 259.4L108.4 267.6L108.2 280.3L107.9 290.4L109.5 294.2L110.1 301.8L109.5 311.9L110.5 323.3L105.0 323.3L102.5 314.5L101.2 306.9L101.6 296.8L100.6 290.4L100.3 274.0Z" fill="#93BB32"/>
<path d="M108.8 248.7L109.8 248.7L110.7 261.3L112.2 266.4L113.3 274.0L113.9 284.1L113.3 289.2L111.4 287.9L110.1 284.1L109.2 274.0L108.8 261.3Z" fill="#93BB32"/>
<path d="M115.8 248.7L121.5 248.7L122.1 258.8L120.8 261.3L119.6 268.9L118.9 277.8L117.7 284.1L116.4 289.2L115.1 284.1L115.1 274.0L115.5 261.3Z" fill="#93BB32"/>
<path d="M123.6 249.3L125.9 248.7L126.8 260.1L128.4 268.9L129.7 276.5L129.5 281.6L127.2 286.6L126.5 294.2L127.2 301.8L125.9 308.2L123.4 310.7L120.2 308.2L117.7 304.4L115.1 300.6L114.5 295.5L115.8 290.4L118.3 287.9L120.8 286.6L122.7 281.6L123.6 274.0L123.1 261.3Z" fill="#93BB32"/>
<path d="M114.5 301.8L118.3 306.9L122.1 311.9L123.4 317.0L122.7 323.3L127.2 323.3L129.7 319.5L131.6 314.5L132.2 306.9L131.6 300.6L129.7 304.4L127.2 306.9L124.6 310.7L120.8 309.4L117.7 304.4Z" fill="#93BB32"/>
<path d="M94.0 299.3C94.6 296.8 96.1 299.8 96.8 301.8C97.5 303.8 97.6 306.9 97.4 309.4C97.3 311.9 96.8 313.5 96.2 314.5C95.5 315.5 94.4 317.5 94.0 314.5C93.6 311.4 93.5 301.8 94.0 299.3Z" fill="#BEF060"/>
<path d="M94.0 317.0L96.8 318.3L97.4 323.3L94.0 323.3Z" fill="#93BB32"/>
<path d="M101.6 294.2C102.5 291.2 104.1 291.6 105.7 291.7C107.2 291.8 108.3 292.3 109.2 294.9C110.1 297.4 110.2 300.4 110.2 304.4C110.3 308.3 109.4 310.7 109.5 314.5C109.5 318.3 111.4 321.6 110.5 323.3C109.6 325.1 106.6 325.1 105.0 323.3C103.5 321.6 103.4 317.8 102.6 314.5C101.9 311.2 101.6 310.9 101.4 306.9C101.1 302.8 100.7 297.3 101.6 294.2Z" fill="#93BB32"/>
<path d="M102.9 298.0C103.5 296.3 104.6 295.5 105.7 295.5C106.7 295.5 107.6 296.0 108.2 298.0C108.8 300.1 108.8 302.3 108.8 305.6C108.8 308.9 108.6 311.9 108.2 314.5C107.8 317.0 107.6 317.8 106.9 318.3C106.3 318.8 105.7 318.3 105.0 317.0C104.4 315.7 104.1 314.5 103.6 311.9C103.1 309.4 102.8 307.1 102.6 304.4C102.5 301.6 102.3 299.8 102.9 298.0Z" fill="#BEF060"/>
<path d="M142.4 236.0L145.8 236.0L146.2 222.5L148.9 222.5L149.7 236.0L151.2 243.6L151.9 255.0L153.8 261.3L155.0 268.9L160.1 268.9L160.1 323.3L143.0 323.3L142.4 306.9L143.4 293.0L143.0 277.8L142.4 261.3Z" fill="#93BB32"/>
<path d="M155.0 252.5L160.1 249.9L160.1 268.9L155.0 268.9Z" fill="#93BB32"/>
<path d="M143.0 243.6C143.4 241.6 144.4 242.6 144.9 244.9C145.4 247.1 145.5 251.7 145.5 255.0C145.5 258.3 145.3 259.8 144.9 261.3C144.5 262.8 144.0 263.8 143.6 262.6C143.2 261.3 143.0 258.8 142.9 255.0C142.7 251.2 142.6 245.6 143.0 243.6Z" fill="#BEF060"/>
<path d="M144.9 274.0C145.7 271.4 147.2 272.2 148.7 271.4C150.2 270.7 151.0 270.2 152.5 270.2C154.0 270.2 154.8 270.7 156.3 271.4C157.8 272.2 159.3 263.6 160.1 274.0C160.8 284.4 161.6 313.5 160.1 323.3C158.6 333.2 154.5 325.6 152.5 323.3C150.5 321.1 151.0 316.8 150.0 311.9C148.9 307.1 148.2 303.6 147.4 299.3C146.7 295.0 146.7 293.5 146.2 290.4C145.6 287.4 144.9 287.4 144.6 284.1C144.4 280.8 144.1 276.5 144.9 274.0Z" fill="#BEF060"/>
<path d="M147.4 276.5C148.2 275.1 149.7 274.6 151.2 274.6C152.7 274.6 154.1 274.9 155.0 276.5C156.0 278.2 155.9 279.5 156.0 282.8C156.2 286.1 155.6 288.4 155.7 293.0C155.7 297.5 156.3 300.8 156.3 305.6C156.3 310.4 156.2 314.2 155.7 317.0C155.1 319.8 154.4 320.6 153.8 319.5C153.1 318.5 152.9 316.0 152.5 311.9C152.1 307.9 152.4 303.3 151.9 299.3C151.4 295.2 150.8 294.0 150.0 291.7C149.1 289.4 148.2 289.9 147.7 287.9C147.1 285.9 147.2 283.8 147.2 281.6C147.1 279.3 146.6 277.9 147.4 276.5Z" fill="#20B2AA"/>
<path d="M151.9 283.5C152.2 281.6 153.1 281.8 153.8 282.2C154.4 282.6 155.0 282.5 155.3 285.4C155.6 288.3 155.5 293.5 155.3 296.8C155.1 300.1 154.8 301.3 154.4 301.8C154.0 302.3 153.6 301.3 153.1 299.3C152.7 297.3 152.4 294.9 152.1 291.7C151.9 288.5 151.5 285.4 151.9 283.5Z" fill="#B0E0E6"/>
<path d="M128.4 263.8C128.6 262.3 129.8 263.6 130.3 265.1C130.8 266.6 130.5 269.7 131.0 271.4C131.5 273.2 131.9 274.7 132.9 274.0C133.9 273.2 135.0 271.4 136.0 267.6C137.0 263.8 137.4 257.5 137.9 255.0C138.5 252.5 138.5 252.5 138.8 255.0C139.1 257.5 139.3 265.6 139.6 267.6C139.9 269.7 140.1 264.9 140.5 265.1C140.8 265.4 141.0 266.4 141.4 268.9C141.7 271.4 141.8 273.0 142.1 277.8C142.4 282.6 142.9 287.1 143.0 293.0C143.0 298.8 142.7 302.6 142.4 306.9C142.0 311.2 141.7 313.5 141.1 314.5C140.5 315.5 140.0 314.5 139.2 311.9C138.4 309.4 138.2 304.9 137.3 301.8C136.4 298.8 135.8 298.0 134.8 296.8C133.8 295.5 133.1 296.5 132.2 295.5C131.4 294.5 130.8 293.7 130.3 291.7C129.8 289.7 129.5 287.9 129.7 285.4C130.0 282.8 131.6 281.6 131.6 279.0C131.6 276.5 130.3 275.7 129.7 272.7C129.1 269.7 128.3 265.4 128.4 263.8Z" fill="#DEB887"/>
<path d="M132.9 278.4C133.3 277.3 134.0 277.5 134.8 278.4C135.5 279.3 135.8 281.6 136.7 282.8C137.6 284.1 138.4 285.2 139.2 284.7C140.0 284.2 140.0 281.1 140.5 280.3C141.0 279.5 141.4 278.9 141.7 280.9C142.1 283.0 142.3 286.5 142.4 290.4C142.4 294.4 142.4 297.8 142.1 300.6C141.8 303.3 141.4 304.1 140.8 304.4C140.3 304.6 139.8 303.6 139.2 301.8C138.6 300.1 138.7 297.4 137.9 295.5C137.2 293.6 136.3 293.6 135.4 292.3C134.5 291.1 133.8 290.8 133.3 289.2C132.7 287.5 132.6 286.3 132.5 284.1C132.4 281.9 132.4 279.5 132.9 278.4Z" fill="#FFE100"/>
<path d="M139.8 288.5C140.1 287.5 140.7 287.0 141.1 287.9C141.5 288.8 141.8 290.9 141.9 293.0C141.9 295.0 141.7 297.3 141.4 298.0C141.0 298.8 140.4 297.8 140.1 296.8C139.7 295.7 139.6 294.6 139.6 293.0C139.5 291.3 139.5 289.5 139.8 288.5Z" fill="#FFA500"/>
<path d="M115.1 315.1C115.8 313.1 117.7 313.3 118.9 313.2C120.2 313.1 121.1 313.5 121.5 314.5C121.9 315.5 121.4 316.5 120.8 318.3C120.3 320.1 120.0 322.3 118.9 323.3C117.9 324.4 116.5 325.0 115.8 323.3C115.0 321.7 114.5 317.1 115.1 315.1Z" fill="#DEB887"/>
<path d="M133.5 317.0L135.4 318.3L135.4 323.3L133.5 323.3Z" fill="#DEB887"/>
<path d="M139.2 317.0L141.1 318.3L141.4 323.3L139.2 323.3Z" fill="#DEB887"/>
<path d="M98.1 313.2L100.0 313.8L100.0 316.4L98.1 315.7Z" fill="#DEB887"/>
<path d="M94.0 267.6C94.8 262.5 96.7 267.0 98.1 268.3C99.4 269.5 99.9 270.3 100.6 274.0C101.3 277.6 101.5 282.3 101.6 286.6C101.7 290.9 101.7 292.8 101.2 295.5C100.8 298.2 100.3 299.2 99.3 299.9C98.3 300.7 97.2 300.4 96.2 299.3C95.1 298.2 94.4 300.6 94.0 294.2C93.6 287.9 93.2 272.8 94.0 267.6Z" fill="#DEB887"/>
<path d="M94.0 270.8C94.4 267.3 95.4 271.1 96.2 271.4C97.0 271.8 97.2 271.2 98.1 272.7C98.9 274.2 99.8 275.7 100.3 279.0C100.9 282.3 100.9 286.0 100.8 289.2C100.8 292.3 100.6 293.3 100.1 294.9C99.5 296.4 99.0 296.8 98.1 296.8C97.1 296.8 96.3 296.4 95.5 294.9C94.7 293.3 94.3 294.0 94.0 289.2C93.7 284.4 93.6 274.4 94.0 270.8Z" fill="#FFE100"/>
<path d="M94.0 275.2C94.4 272.7 95.2 274.2 95.8 275.2C96.3 276.3 96.5 277.8 96.8 280.3C97.0 282.8 97.2 285.6 97.0 287.9C96.9 290.2 96.6 291.2 96.2 291.7C95.7 292.2 95.3 291.2 94.9 290.4C94.5 289.7 94.2 290.9 94.0 287.9C93.8 284.9 93.7 277.8 94.0 275.2Z" fill="#FFA500"/>
<path d="M97.6 276.5C97.9 275.5 98.6 276.3 99.1 277.8C99.6 279.3 99.8 281.3 100.0 284.1C100.1 286.9 100.1 289.8 99.8 291.7C99.6 293.6 99.2 293.8 98.8 293.6C98.4 293.3 98.1 292.6 97.8 290.4C97.5 288.3 97.5 285.6 97.4 282.8C97.4 280.1 97.2 277.5 97.6 276.5Z" fill="#FFA500"/>
<path d="M94.3 277.8C94.5 276.1 95.2 277.1 95.5 278.4C95.9 279.7 96.0 282.2 96.0 284.1C96.0 286.0 95.8 287.4 95.5 287.9C95.2 288.4 94.8 288.7 94.5 286.6C94.3 284.6 94.1 279.4 94.3 277.8Z" fill="#FF4500"/>
<path d="M100.6 272.7C101.0 270.4 102.1 270.2 103.1 268.9C104.1 267.6 104.7 265.9 105.7 266.4C106.6 266.9 107.4 267.4 107.9 271.4C108.4 275.5 108.4 282.8 108.2 286.6C108.0 290.4 107.7 289.9 106.9 290.4C106.2 290.9 105.4 289.9 104.4 289.2C103.4 288.4 102.6 288.4 101.9 286.6C101.1 284.9 101.1 283.1 100.8 280.3C100.6 277.5 100.1 275.0 100.6 272.7Z" fill="#BEF060"/>
<path d="M101.2 274.0C101.5 272.1 102.1 272.3 102.5 273.3C102.9 274.4 103.1 276.9 103.1 279.0C103.1 281.2 102.8 283.3 102.5 284.1C102.1 284.9 101.6 284.9 101.4 282.8C101.1 280.8 101.0 275.9 101.2 274.0Z" fill="#20B2AA"/>
<path d="M104.1 271.4C104.5 269.5 105.3 269.0 105.9 269.5C106.5 270.1 106.8 270.8 107.2 274.0C107.5 277.1 107.7 282.3 107.6 285.4C107.4 288.4 106.9 288.9 106.3 289.2C105.7 289.4 105.1 288.7 104.6 286.6C104.2 284.6 104.2 282.1 104.1 279.0C104.0 276.0 103.8 273.3 104.1 271.4Z" fill="#20B2AA"/>
<path d="M104.6 272.7C104.8 270.2 105.5 270.9 105.9 271.4C106.4 271.9 106.7 272.7 106.9 275.2C107.1 277.8 107.1 281.8 106.9 284.1C106.7 286.4 106.3 286.6 105.9 286.6C105.5 286.6 105.1 286.9 104.9 284.1C104.6 281.3 104.4 275.2 104.6 272.7Z" fill="#B0E0E6"/>
<path d="M105.0 274.0C105.2 272.5 105.6 272.8 105.9 273.3C106.2 273.8 106.4 274.9 106.5 276.5C106.7 278.2 106.7 280.2 106.5 281.6C106.4 283.0 106.0 283.6 105.7 283.5C105.4 283.3 105.1 282.8 105.0 280.9C104.9 279.0 104.8 275.5 105.0 274.0Z" fill="#789BF2"/>
<path d="M112.6 265.1C113.0 260.7 114.4 263.2 115.1 264.5C115.9 265.7 116.2 267.5 116.4 271.4C116.7 275.4 116.7 280.6 116.4 284.1C116.2 287.6 115.8 288.7 115.1 289.2C114.5 289.7 113.8 291.4 113.3 286.6C112.7 281.8 112.2 269.5 112.6 265.1Z" fill="#DEB887"/>
<path d="M113.5 270.2C113.8 267.3 114.6 268.5 115.1 269.5C115.7 270.6 115.9 272.3 116.0 275.2C116.2 278.2 116.1 281.6 115.8 284.1C115.5 286.6 115.0 287.9 114.5 287.9C114.1 287.9 113.7 287.6 113.5 284.1C113.3 280.6 113.2 273.1 113.5 270.2Z" fill="#FFE100"/>
<path d="M113.8 272.7C114.0 270.9 114.6 271.7 115.0 272.5C115.4 273.2 115.7 274.4 115.8 276.5C115.9 278.6 115.8 281.2 115.5 282.8C115.3 284.5 114.9 285.0 114.5 284.7C114.2 284.5 113.9 284.0 113.8 281.6C113.6 279.2 113.5 274.5 113.8 272.7Z" fill="#FFA500"/>
<path d="M114.0 274.6C114.2 273.3 114.7 273.8 115.0 274.6C115.3 275.4 115.4 277.0 115.4 278.4C115.4 279.8 115.3 281.1 115.0 281.6C114.8 282.1 114.3 282.3 114.1 280.9C113.9 279.5 113.8 275.9 114.0 274.6Z" fill="#FF4500"/>
<path d="M107.6 286.6C108.1 285.1 109.7 285.6 110.7 286.6C111.7 287.6 112.4 289.7 112.6 291.7C112.9 293.7 112.6 295.5 112.0 296.8C111.4 298.0 110.3 298.5 109.5 298.0C108.6 297.5 108.3 296.5 107.9 294.2C107.6 291.9 107.0 288.2 107.6 286.6Z" fill="#DEB887"/>
<path d="M108.4 289.2C108.8 288.3 109.4 287.9 110.1 288.5C110.7 289.2 111.6 290.8 111.7 292.3C111.9 293.8 111.5 295.2 111.0 296.1C110.5 297.0 109.7 297.4 109.2 296.8C108.7 296.1 108.6 294.5 108.4 293.0C108.3 291.4 108.1 290.1 108.4 289.2Z" fill="#FFE100"/>
<path d="M116.4 289.2C117.0 287.4 118.4 286.6 119.6 286.6C120.7 286.6 121.0 288.4 122.1 289.2C123.3 289.9 124.4 289.2 125.3 290.4C126.2 291.7 126.4 293.2 126.5 295.5C126.7 297.8 126.4 300.1 125.9 301.8C125.4 303.6 124.9 304.4 124.0 304.4C123.1 304.4 122.5 302.8 121.5 301.8C120.5 300.8 119.9 300.6 118.9 299.3C118.0 298.0 117.3 297.5 116.8 295.5C116.3 293.5 115.9 290.9 116.4 289.2Z" fill="#BEF060"/>
<path d="M117.7 290.4C118.1 289.4 119.1 289.0 119.6 289.8C120.1 290.6 120.3 292.8 120.2 294.2C120.1 295.6 119.5 296.6 118.9 296.8C118.4 296.9 117.9 296.1 117.7 294.9C117.4 293.6 117.3 291.4 117.7 290.4Z" fill="#20B2AA"/>
<path d="M123.1 293.6C123.6 292.3 124.8 292.1 125.3 293.0C125.8 293.8 125.8 296.3 125.7 298.0C125.5 299.8 124.9 301.6 124.4 301.8C123.9 302.1 123.4 300.9 123.1 299.3C122.9 297.6 122.7 294.9 123.1 293.6Z" fill="#20B2AA"/>
<path d="M144.9 249.9C145.4 247.4 146.5 247.6 147.4 248.7C148.3 249.7 148.9 251.2 149.3 255.0C149.8 258.8 150.0 264.1 149.7 267.6C149.5 271.2 148.8 271.9 148.1 272.7C147.3 273.5 146.5 273.7 145.9 271.4C145.3 269.2 145.4 265.6 145.1 261.3C144.9 257.0 144.4 252.5 144.9 249.9Z" fill="#DEB887"/>
<path d="M145.9 253.7C146.2 251.3 146.9 252.1 147.4 253.1C147.9 254.1 148.3 255.9 148.4 258.8C148.6 261.7 148.5 265.2 148.2 267.6C147.9 270.1 147.3 271.3 146.8 270.8C146.3 270.3 146.1 268.5 145.9 265.1C145.7 261.7 145.6 256.1 145.9 253.7Z" fill="#FFE100"/>
<path d="M146.4 256.9C146.6 255.4 147.1 256.0 147.4 256.9C147.7 257.8 147.8 259.7 147.8 261.3C147.8 263.0 147.7 264.5 147.4 265.1C147.2 265.7 146.7 266.1 146.5 264.5C146.3 262.8 146.2 258.4 146.4 256.9Z" fill="#FFA500"/>
<path d="M152.5 244.9C152.8 243.0 153.6 243.0 154.0 245.5C154.4 248.0 154.2 254.4 154.4 257.5C154.6 260.7 155.3 260.3 155.0 261.3C154.8 262.3 153.7 263.8 153.1 262.6C152.6 261.3 152.4 258.5 152.2 255.0C152.1 251.4 152.1 246.8 152.5 244.9Z" fill="#DEB887"/></g>
<clipPath id="k2"><rect x="152.20" y="196.00" width="60.00" height="68.00"/></clipPath><g clip-path="url(#k2)"><path d="M160.4 206.7L161.9 206.7L162.9 220.0L163.2 223.2L165.5 223.2L165.7 233.9L166.4 242.8L168.9 251.6L170.1 242.8L170.1 226.3L170.8 213.7L171.4 206.7L172.7 206.7L173.6 216.2L174.3 223.2L185.3 223.2L186.0 236.4L187.2 249.1L187.9 258.0L188.8 255.4L189.8 260.5L191.0 254.2L191.7 236.4L191.0 223.8L192.0 223.2L192.9 226.3L193.6 223.2L194.8 223.8L195.1 233.9L197.4 236.4L199.3 251.6L200.5 260.5L201.8 249.1L201.8 236.4L208.8 236.4L210.0 249.1L212.6 237.7L215.1 237.1L215.1 266.8L144.2 266.8L144.2 236.4L145.5 236.4L146.1 223.2L149.3 223.2L149.9 236.4L151.2 239.0L151.8 251.6L154.3 259.2L156.2 254.2L158.1 239.0L159.4 236.4L160.0 220.0Z" fill="#93BB32"/>
<path d="M161.7 225.1C162.1 222.3 163.6 222.3 164.2 223.8C164.8 225.3 164.8 229.6 164.7 232.6C164.6 235.7 164.3 238.0 163.8 239.0C163.3 240.0 162.6 240.5 162.2 237.7C161.7 234.9 161.3 227.8 161.7 225.1Z" fill="#F5E6BE"/>
<path d="M160.7 254.2C161.2 250.7 161.8 250.0 162.6 249.7C163.3 249.5 163.9 250.5 164.5 252.9C165.0 255.3 165.2 259.0 165.5 261.8C165.8 264.5 167.1 265.8 166.0 266.8C164.9 267.8 161.1 269.4 160.0 266.8C159.0 264.3 160.1 257.6 160.7 254.2Z" fill="#F5E6BE"/>
<path d="M170.1 251.6C171.1 249.4 172.6 249.9 173.9 250.4C175.3 250.9 176.2 251.4 177.1 254.2C178.0 256.9 178.1 261.8 178.4 264.3C178.7 266.8 180.5 266.3 178.6 266.8C176.8 267.3 171.1 267.8 169.3 266.8C167.4 265.8 169.1 264.8 169.3 261.8C169.4 258.7 169.2 253.9 170.1 251.6Z" fill="#F5E6BE"/>
<path d="M204.2 252.9C204.8 250.7 205.0 248.7 205.5 249.7C205.9 250.7 206.1 254.5 206.5 258.0C206.8 261.4 208.1 265.1 207.2 266.8C206.3 268.6 202.9 268.1 201.9 266.8C201.0 265.6 202.0 263.3 202.4 260.5C202.9 257.7 203.6 255.1 204.2 252.9Z" fill="#F5E6BE"/>
<path d="M212.6 254.2L215.1 252.9L215.1 261.8L213.2 260.5Z" fill="#F5E6BE"/>
<path d="M144.8 249.1C145.4 245.6 147.1 247.6 148.0 249.1C148.9 250.6 149.3 253.2 149.5 256.7C149.8 260.2 150.1 264.8 149.3 266.8C148.4 268.8 146.1 270.4 145.2 266.8C144.3 263.3 144.3 252.6 144.8 249.1Z" fill="#DEB887"/>
<path d="M145.7 253.5C146.1 250.9 147.2 252.4 147.7 253.5C148.3 254.7 148.5 256.6 148.6 259.2C148.7 261.9 148.8 265.3 148.3 266.8C147.7 268.3 146.2 269.5 145.7 266.8C145.2 264.2 145.3 256.2 145.7 253.5Z" fill="#FFE100"/>
<path d="M146.1 256.7C146.3 254.7 147.0 255.7 147.4 256.7C147.7 257.7 147.9 259.7 148.0 261.8C148.0 263.8 147.9 265.8 147.6 266.8C147.3 267.8 146.7 268.8 146.4 266.8C146.0 264.8 145.9 258.7 146.1 256.7Z" fill="#FFA500"/>
<path d="M152.4 244.7C152.9 242.9 153.8 242.6 154.3 245.3C154.8 248.0 155.0 253.7 155.0 258.0C155.0 262.3 154.8 265.3 154.3 266.8C153.9 268.3 153.3 268.1 152.8 265.6C152.4 263.0 152.1 258.3 152.0 254.2C152.0 250.0 152.0 246.4 152.4 244.7Z" fill="#DEB887"/>
<path d="M170.5 258.0C170.9 255.9 171.7 255.4 172.3 256.7C172.9 258.0 173.3 262.3 173.6 264.3C173.9 266.3 174.4 266.3 173.8 266.8C173.2 267.3 171.2 268.6 170.5 266.8C169.9 265.1 170.2 260.0 170.5 258.0Z" fill="#DEB887"/>
<path d="M144.2 244.0C144.5 240.7 145.3 243.3 145.7 245.3C146.1 247.3 146.1 250.9 146.1 254.2C146.0 257.5 145.8 260.2 145.5 261.8C145.1 263.3 144.5 265.3 144.2 261.8C143.9 258.2 143.9 247.3 144.2 244.0Z" fill="#BEF060"/></g>
<clipPath id="k3"><rect x="152.20" y="264.00" width="70.00" height="62.00"/></clipPath><g clip-path="url(#k3)"><path d="M150.4 261.3L225.1 261.3L225.1 323.3L150.4 323.3Z" fill="#93BB32"/>
<path d="M156.5 290.4C157.3 283.6 159.2 287.9 160.5 289.2C161.8 290.4 162.4 293.2 163.1 296.8C163.7 300.3 163.8 302.8 163.7 306.9C163.6 310.9 163.2 313.7 162.4 317.0C161.7 320.3 161.1 322.1 159.9 323.3C158.7 324.6 157.2 329.9 156.5 323.3C155.8 316.8 155.7 297.3 156.5 290.4Z" fill="#F5E6BE"/>
<path d="M157.4 296.8C158.1 294.5 159.6 294.5 160.5 295.5C161.4 296.5 161.7 298.5 161.8 301.8C161.9 305.1 161.8 309.4 161.2 311.9C160.5 314.5 159.5 315.5 158.6 314.5C157.8 313.5 157.2 310.4 157.0 306.9C156.7 303.3 156.7 299.0 157.4 296.8Z" fill="#DEB887"/>
<path d="M160.5 251.2C161.0 247.6 161.8 248.4 162.4 249.9C163.1 251.4 163.5 255.0 163.7 258.8C163.9 262.6 163.7 266.1 163.3 268.9C162.9 271.7 162.4 273.0 161.8 272.7C161.2 272.5 160.5 271.9 160.3 267.6C160.0 263.3 160.1 254.7 160.5 251.2Z" fill="#F5E6BE"/>
<path d="M169.4 258.8C170.3 256.3 172.0 255.7 173.2 256.3C174.3 256.8 174.5 258.3 175.1 261.3C175.7 264.4 175.8 267.9 176.4 271.4C176.9 275.0 177.2 275.5 177.6 279.0C178.0 282.6 178.4 285.1 178.3 289.2C178.1 293.2 177.5 295.7 177.0 299.3C176.5 302.8 176.5 304.4 175.7 306.9C175.0 309.4 174.1 313.0 173.2 311.9C172.3 310.9 171.9 305.9 171.3 301.8C170.7 297.8 170.5 296.0 170.0 291.7C169.5 287.4 169.0 284.9 168.8 280.3C168.5 275.7 168.6 273.2 168.8 268.9C168.9 264.6 168.5 261.3 169.4 258.8Z" fill="#F5E6BE"/>
<path d="M170.7 261.3C171.2 258.5 172.3 258.5 172.9 260.1C173.6 261.6 173.6 265.1 173.8 268.9C174.1 272.7 174.2 275.5 174.2 279.0C174.2 282.6 174.1 284.4 173.8 286.6C173.5 288.9 173.1 290.9 172.6 290.4C172.0 289.9 171.3 287.4 170.9 284.1C170.5 280.8 170.5 278.5 170.4 274.0C170.4 269.4 170.1 264.1 170.7 261.3Z" fill="#DEB887"/>
<path d="M171.3 272.1C171.6 270.2 172.8 270.9 173.2 272.1C173.6 273.2 173.5 275.7 173.4 277.8C173.4 279.8 173.3 281.4 172.9 282.2C172.6 283.0 171.9 283.6 171.5 281.6C171.2 279.5 171.0 274.0 171.3 272.1Z" fill="#FFE100"/>
<path d="M180.1 285.4C180.7 284.1 181.5 283.8 182.0 286.6C182.6 289.4 182.7 294.2 182.7 299.3C182.7 304.4 182.3 307.1 182.0 311.9C181.8 316.8 181.9 321.1 181.4 323.3C180.9 325.6 179.9 326.6 179.5 323.3C179.1 320.1 179.3 313.0 179.3 306.9C179.3 300.8 179.3 297.3 179.5 293.0C179.7 288.7 179.6 286.6 180.1 285.4Z" fill="#F5E6BE"/>
<path d="M183.9 295.5C184.3 291.9 185.2 292.5 185.8 294.2C186.5 296.0 186.8 298.5 187.1 304.4C187.4 310.2 187.9 319.5 187.4 323.3C186.9 327.1 185.3 325.6 184.6 323.3C183.9 321.1 184.1 317.5 183.9 311.9C183.8 306.4 183.6 299.0 183.9 295.5Z" fill="#F5E6BE"/>
<path d="M196.6 304.4C197.0 303.1 197.8 302.8 198.3 304.4C198.7 305.9 198.8 309.2 198.8 311.9C198.8 314.7 198.7 317.0 198.3 318.3C197.8 319.5 197.0 319.8 196.6 318.3C196.2 316.8 196.2 313.5 196.2 310.7C196.2 307.9 196.2 305.6 196.6 304.4Z" fill="#F5E6BE"/>
<path d="M201.0 276.5C201.2 270.2 200.4 264.4 201.5 261.3C202.7 258.3 205.7 258.8 206.9 261.3C208.0 263.8 207.1 268.9 207.4 274.0C207.6 279.0 208.0 281.6 208.0 286.6C208.0 291.7 207.6 294.2 207.4 299.3C207.1 304.4 207.0 307.1 206.7 311.9C206.5 316.8 207.1 321.1 206.1 323.3C205.1 325.6 202.7 325.6 201.7 323.3C200.7 321.1 201.2 318.0 201.0 311.9C200.9 305.9 200.8 300.1 200.8 293.0C200.8 285.9 200.9 282.8 201.0 276.5Z" fill="#F5E6BE"/>
<path d="M220.0 274.0C220.9 272.2 224.1 268.4 225.1 271.4C226.1 274.5 225.6 286.1 225.1 289.2C224.6 292.2 223.4 288.4 222.6 286.6C221.7 284.9 221.2 282.8 220.7 280.3C220.1 277.8 219.1 275.7 220.0 274.0Z" fill="#F5E6BE"/>
<path d="M222.6 276.5L225.1 275.9L225.1 286.6L223.2 286.0Z" fill="#DEB887"/>
<path d="M150.4 268.9C151.4 257.8 154.1 266.6 155.5 267.6C156.9 268.7 156.6 270.7 157.4 274.0C158.1 277.3 159.1 280.3 159.3 284.1C159.4 287.9 158.6 289.4 158.0 293.0C157.4 296.5 157.0 297.5 156.5 301.8C156.0 306.1 155.9 310.2 155.5 314.5C155.0 318.8 155.2 321.6 154.2 323.3C153.2 325.1 151.2 334.2 150.4 323.3C149.6 312.5 149.4 280.1 150.4 268.9Z" fill="#BEF060"/>
<path d="M150.4 274.0C151.3 265.4 153.8 273.2 154.8 275.2C155.9 277.3 155.6 279.8 155.7 284.1C155.8 288.4 155.3 292.2 155.2 296.8C155.2 301.3 155.5 302.8 155.5 306.9C155.4 310.9 155.2 314.5 154.8 317.0C154.5 319.5 154.5 319.3 153.6 319.5C152.7 319.8 151.0 327.4 150.4 318.3C149.8 309.2 149.5 282.6 150.4 274.0Z" fill="#20B2AA"/>
<path d="M151.7 283.5C152.2 279.9 153.5 282.5 154.2 284.1C154.9 285.7 155.0 288.7 155.0 291.7C155.0 294.7 154.9 297.3 154.2 299.3C153.5 301.3 152.2 305.0 151.7 301.8C151.2 298.7 151.2 287.0 151.7 283.5Z" fill="#B0E0E6"/>
<path d="M163.7 286.6C164.3 282.6 165.2 280.8 166.2 279.0C167.2 277.3 167.9 276.3 168.8 277.8C169.6 279.3 170.0 282.3 170.4 286.6C170.8 290.9 170.7 294.2 170.7 299.3C170.6 304.4 170.8 308.4 170.0 311.9C169.3 315.5 168.0 317.0 166.9 317.0C165.7 317.0 164.8 315.5 164.1 311.9C163.4 308.4 163.4 304.4 163.3 299.3C163.2 294.2 163.1 290.7 163.7 286.6Z" fill="#BEF060"/>
<path d="M166.9 291.7C167.2 288.9 168.2 289.4 168.8 290.4C169.3 291.4 169.5 293.7 169.6 296.8C169.8 299.8 169.7 303.2 169.4 305.6C169.1 308.0 168.6 309.0 168.1 308.8C167.6 308.5 167.1 307.8 166.9 304.4C166.6 300.9 166.5 294.5 166.9 291.7Z" fill="#20B2AA"/>
<path d="M186.5 274.0C187.0 270.9 187.9 271.9 189.0 271.4C190.1 270.9 191.1 270.7 192.2 271.4C193.3 272.2 193.9 272.2 194.5 275.2C195.0 278.3 194.9 281.8 194.7 286.6C194.5 291.4 193.8 294.2 193.4 299.3C193.1 304.4 193.1 307.1 192.8 311.9C192.6 316.8 192.9 321.1 192.2 323.3C191.4 325.6 189.8 325.6 189.0 323.3C188.3 321.1 188.7 316.8 188.4 311.9C188.0 307.1 187.7 304.4 187.4 299.3C187.0 294.2 186.7 291.7 186.5 286.6C186.3 281.6 186.0 277.0 186.5 274.0Z" fill="#BEF060"/>
<path d="M188.4 279.0C188.9 277.1 190.0 276.9 190.9 277.1C191.8 277.4 192.4 277.9 192.8 280.3C193.3 282.7 193.3 285.4 193.2 289.2C193.1 293.0 192.5 294.7 192.2 299.3C191.8 303.8 191.7 307.6 191.5 311.9C191.3 316.3 191.5 319.0 191.2 320.8C190.8 322.6 190.3 322.6 189.9 320.8C189.5 319.0 189.6 316.3 189.4 311.9C189.1 307.6 188.9 304.4 188.6 299.3C188.4 294.2 188.2 290.7 188.1 286.6C188.1 282.6 187.8 280.9 188.4 279.0Z" fill="#20B2AA"/>
<path d="M190.1 285.4C190.4 284.0 191.1 284.0 191.4 284.7C191.8 285.5 192.0 287.5 191.9 289.2C191.9 290.8 191.5 292.5 191.2 293.0C190.8 293.5 190.5 293.2 190.3 291.7C190.1 290.2 189.9 286.8 190.1 285.4Z" fill="#B0E0E6"/>
<path d="M209.3 285.4C209.7 282.6 210.3 283.8 211.2 282.8C212.0 281.8 212.7 281.3 213.7 280.3C214.7 279.3 215.2 277.3 216.2 277.8C217.2 278.3 217.9 280.3 218.8 282.8C219.6 285.4 220.1 286.6 220.7 290.4C221.2 294.2 221.3 297.0 221.3 301.8C221.3 306.6 221.2 310.2 220.7 314.5C220.1 318.8 220.1 321.6 218.8 323.3C217.4 325.1 215.2 325.1 213.7 323.3C212.2 321.6 211.9 317.8 211.2 314.5C210.4 311.2 210.4 310.4 209.9 306.9C209.4 303.3 209.0 301.1 208.9 296.8C208.8 292.5 208.8 288.2 209.3 285.4Z" fill="#BEF060"/>
<path d="M215.0 289.2C215.3 286.4 216.2 287.1 216.9 287.9C217.5 288.7 217.9 289.7 218.1 293.0C218.4 296.3 218.3 300.6 218.1 304.4C217.9 308.2 217.7 310.7 217.2 311.9C216.8 313.2 216.4 312.7 216.0 310.7C215.6 308.7 215.4 306.1 215.2 301.8C215.0 297.5 214.6 291.9 215.0 289.2Z" fill="#20B2AA"/></g>
<clipPath id="k4"><rect x="212.20" y="196.00" width="65.00" height="68.00"/></clipPath><g clip-path="url(#k4)"><path d="M207.9 249.1L211.7 249.1L212.4 236.4L214.9 236.4L215.5 247.8L216.8 249.1L217.4 237.7L218.3 237.7L219.1 249.1L220.0 239.0L220.3 249.1L220.8 256.7L221.2 266.8L207.9 266.8Z" fill="#93BB32"/>
<path d="M212.7 256.7C213.0 255.8 213.6 255.1 214.0 255.4C214.4 255.8 214.9 257.5 214.9 258.6C214.9 259.7 214.4 260.9 214.0 261.1C213.6 261.4 213.0 260.7 212.7 259.9C212.5 259.0 212.5 257.6 212.7 256.7Z" fill="#F5E6BE"/>
<path d="M224.4 236.4L225.9 236.4L226.3 246.6L225.7 255.4L224.4 261.8L223.4 256.7L223.8 246.6Z" fill="#93BB32"/>
<path d="M231.7 237.1L232.6 236.4L233.3 249.1L233.9 236.4L239.6 236.4L239.8 247.8L238.9 256.7L237.7 261.8L236.4 254.2L234.5 249.7L233.5 256.7L233.3 266.8L232.6 266.8L232.0 254.2Z" fill="#93BB32"/>
<path d="M242.4 236.4L247.2 236.4L247.8 247.8L247.2 255.4L245.9 260.5L244.6 261.8L243.6 256.7L242.7 249.1Z" fill="#93BB32"/>
<path d="M249.7 249.7L250.7 249.7L251.2 256.7L250.7 259.2L250.0 256.7Z" fill="#93BB32"/>
<path d="M251.6 259.2L253.5 259.2L253.8 266.8L251.2 266.8Z" fill="#93BB32"/>
<path d="M267.7 259.5L271.0 259.5L271.5 266.8L267.4 266.8Z" fill="#93BB32"/>
<path d="M273.1 260.5L274.4 260.5L274.8 266.8L273.1 266.8Z" fill="#93BB32"/>
<path d="M238.9 258.0C239.6 255.4 240.2 254.4 240.8 254.2C241.5 253.9 241.9 254.7 242.4 256.7C242.8 258.7 242.8 262.3 243.1 264.3C243.5 266.3 245.1 266.3 244.0 266.8C242.9 267.3 238.7 268.6 237.7 266.8C236.7 265.1 238.3 260.5 238.9 258.0Z" fill="#DEB887"/>
<path d="M240.6 261.8C241.0 260.1 241.3 258.1 241.7 258.6C242.1 259.1 242.3 262.6 242.6 264.3C242.9 265.9 243.7 266.3 243.1 266.8C242.5 267.3 240.1 267.8 239.6 266.8C239.1 265.8 240.2 263.4 240.6 261.8Z" fill="#FFE100"/>
<path d="M244.6 266.8L247.2 264.3L249.7 265.6L251.0 266.8Z" fill="#DEB887"/>
<path d="M257.3 266.8L259.2 263.7L262.4 264.3L264.9 266.8Z" fill="#DEB887"/>
<path d="M257.9 266.8L258.8 264.9L259.8 266.8Z" fill="#FFE100"/></g>
<clipPath id="k5"><rect x="222.20" y="264.00" width="60.00" height="62.00"/></clipPath><g clip-path="url(#k5)"><path d="M217.9 261.3L221.1 263.8L221.5 271.4L220.2 274.0L217.9 274.0Z" fill="#93BB32"/>
<path d="M217.9 279.0L220.5 281.6L221.1 289.2L222.4 295.5L223.0 306.9L223.3 317.0L222.7 323.3L217.9 323.3Z" fill="#93BB32"/>
<path d="M217.9 290.4C218.5 285.9 220.0 289.4 220.7 291.7C221.4 294.0 221.4 297.8 221.5 301.8C221.6 305.9 221.8 309.4 221.1 311.9C220.4 314.5 218.6 318.8 217.9 314.5C217.3 310.2 217.4 295.0 217.9 290.4Z" fill="#BEF060"/>
<path d="M230.0 272.7L231.9 271.4L232.5 277.8L231.9 284.1L230.6 285.4L230.0 279.0Z" fill="#93BB32"/>
<path d="M228.1 305.6L229.1 305.0L229.3 308.8L228.3 310.1Z" fill="#93BB32"/>
<path d="M230.3 313.8L231.9 313.2L232.5 317.0L231.2 318.9L230.3 317.0Z" fill="#93BB32"/>
<path d="M251.9 259.4L253.4 259.4L254.0 268.9L253.6 279.0L253.1 285.4L251.9 284.1L251.5 274.0Z" fill="#93BB32"/>
<path d="M267.9 259.4L270.8 259.4L271.4 268.9L271.1 276.5L269.8 280.3L268.6 279.0L267.9 268.9Z" fill="#93BB32"/>
<path d="M273.0 260.1L274.3 260.1L274.4 277.8L273.1 277.8Z" fill="#93BB32"/>
<path d="M280.0 269.2L281.5 269.2L281.5 279.0L280.0 279.0Z" fill="#93BB32"/>
<path d="M249.6 286.6L252.1 284.7L254.6 286.6L257.2 287.9L261.0 290.4L264.8 291.7L267.3 286.6L267.9 280.3L269.8 279.0L271.7 277.8L274.9 277.8L277.4 279.0L278.7 278.4L283.8 278.4L286.3 280.3L290.1 279.0L290.1 323.3L253.4 323.3L252.7 317.0L253.4 311.9L252.1 308.2L249.6 304.4L247.7 299.3L244.5 296.8L242.0 295.5L240.1 291.7L240.7 289.2L244.5 290.4L248.9 293.0Z" fill="#93BB32"/>
<path d="M258.4 311.9C258.9 310.7 260.0 309.4 261.0 309.4C262.0 309.4 263.1 310.4 263.5 311.9C263.9 313.5 263.5 315.7 262.9 317.0C262.2 318.3 261.2 318.5 260.3 318.3C259.5 318.0 258.8 317.0 258.4 315.7C258.1 314.5 257.9 313.2 258.4 311.9Z" fill="#F5E6BE"/>
<path d="M263.5 317.0L265.4 317.0L266.0 323.3L263.5 323.3Z" fill="#F5E6BE"/>
<path d="M267.3 310.7C267.9 309.7 269.6 309.2 271.1 309.4C272.6 309.7 273.4 310.9 274.9 311.9C276.4 313.0 277.7 313.0 278.7 314.5C279.7 316.0 280.0 317.8 280.0 319.5C280.0 321.3 280.2 322.6 278.7 323.3C277.2 324.1 274.1 324.4 272.4 323.3C270.6 322.3 270.7 320.1 269.8 318.3C268.9 316.5 268.4 316.0 267.9 314.5C267.4 313.0 266.7 311.7 267.3 310.7Z" fill="#F5E6BE"/>
<path d="M278.1 306.9L280.0 305.6L281.2 309.4L279.3 310.7Z" fill="#F5E6BE"/>
<path d="M275.5 313.2C276.0 312.5 277.2 313.2 278.1 314.5C278.9 315.7 279.5 317.8 280.0 319.5C280.5 321.3 281.2 322.6 280.6 323.3C280.0 324.1 277.8 324.4 276.8 323.3C275.8 322.3 275.8 320.3 275.5 318.3C275.3 316.3 275.0 314.0 275.5 313.2Z" fill="#DEB887"/>
<path d="M240.1 291.7C240.5 289.9 241.7 289.9 242.6 290.4C243.5 290.9 244.3 291.9 244.5 294.2C244.8 296.5 244.4 299.8 243.9 301.8C243.4 303.8 242.7 304.9 242.0 304.4C241.3 303.8 240.8 301.8 240.5 299.3C240.1 296.8 239.7 293.5 240.1 291.7Z" fill="#BEF060"/>
<path d="M250.2 286.6C251.0 285.4 252.0 284.9 253.4 285.4C254.8 285.9 255.7 287.9 257.2 289.2C258.7 290.4 259.6 290.9 261.0 291.7C262.4 292.5 263.4 291.7 264.1 293.0C264.9 294.2 265.1 296.0 264.8 298.0C264.4 300.1 263.5 301.6 262.2 303.1C261.0 304.6 259.8 305.2 258.4 305.6C257.0 306.0 256.5 305.7 255.3 305.0C254.0 304.2 253.1 303.5 252.1 301.8C251.1 300.2 250.7 298.8 250.2 296.8C249.7 294.7 249.6 293.7 249.6 291.7C249.6 289.7 249.5 287.9 250.2 286.6Z" fill="#BEF060"/>
<path d="M267.3 282.8C267.9 280.1 268.8 279.3 269.8 279.0C270.8 278.8 271.5 279.5 272.4 281.6C273.3 283.6 273.8 286.1 274.3 289.2C274.8 292.2 275.1 294.0 274.9 296.8C274.6 299.5 274.0 301.4 273.0 303.1C272.0 304.7 270.8 305.2 269.8 305.0C268.8 304.7 268.5 304.2 267.9 301.8C267.4 299.4 267.2 296.8 267.0 293.0C266.9 289.2 266.7 285.6 267.3 282.8Z" fill="#BEF060"/>
<path d="M282.5 284.1C282.9 282.1 283.9 281.6 285.0 281.6C286.2 281.6 287.4 281.8 288.2 284.1C288.9 286.4 288.9 289.9 288.8 293.0C288.7 296.0 288.4 298.3 287.6 299.3C286.7 300.3 285.4 299.5 284.4 298.0C283.4 296.5 283.1 294.5 282.7 291.7C282.4 288.9 282.0 286.1 282.5 284.1Z" fill="#BEF060"/>
<path d="M283.1 314.5C283.6 312.2 284.6 311.9 285.7 311.9C286.7 311.9 287.7 312.2 288.2 314.5C288.7 316.8 289.2 321.6 288.2 323.3C287.2 325.1 284.1 325.1 283.1 323.3C282.1 321.6 282.6 316.8 283.1 314.5Z" fill="#BEF060"/>
<path d="M250.8 287.9C251.5 286.9 252.2 286.1 253.4 286.6C254.5 287.1 255.1 289.2 256.5 290.4C257.9 291.7 258.9 292.2 260.3 293.0C261.7 293.7 262.7 293.2 263.5 294.2C264.3 295.2 264.5 296.5 264.1 298.0C263.8 299.5 262.9 300.7 261.6 301.8C260.3 303.0 259.1 303.6 257.8 303.7C256.5 303.8 256.3 303.3 255.3 302.5C254.3 301.6 253.6 300.7 252.7 299.3C251.9 297.9 251.3 297.0 250.8 295.5C250.4 294.0 250.3 293.2 250.3 291.7C250.3 290.2 250.2 288.9 250.8 287.9Z" fill="#20B2AA"/>
<path d="M251.5 289.8C252.0 288.5 253.0 288.7 254.0 289.2C255.0 289.7 255.9 290.8 256.5 292.3C257.2 293.8 257.3 295.2 257.2 296.8C257.0 298.3 256.7 299.5 255.9 299.9C255.1 300.3 254.3 299.5 253.4 298.7C252.5 297.8 251.9 297.3 251.5 295.5C251.1 293.7 251.0 291.1 251.5 289.8Z" fill="#B0E0E6"/>
<path d="M251.9 291.7C252.4 291.1 253.7 291.3 254.6 291.7C255.6 292.1 256.2 292.7 256.5 293.6C256.9 294.5 257.0 295.5 256.5 296.1C256.0 296.8 254.9 297.0 254.0 296.8C253.1 296.5 252.5 295.9 252.1 294.9C251.7 293.8 251.4 292.3 251.9 291.7Z" fill="#789BF2"/>
<path d="M268.3 285.4C268.7 283.5 269.2 281.2 269.8 280.9C270.4 280.7 270.7 282.2 271.4 284.1C272.0 286.0 272.6 287.9 273.0 290.4C273.4 293.0 273.6 294.7 273.4 296.8C273.1 298.8 272.5 299.7 271.7 300.6C271.0 301.4 270.3 301.9 269.6 301.2C268.8 300.4 268.4 298.9 268.1 296.8C267.7 294.6 267.8 292.7 267.8 290.4C267.9 288.2 267.9 287.3 268.3 285.4Z" fill="#20B2AA"/>
<path d="M268.8 290.4C269.1 288.9 269.8 287.6 270.5 287.9C271.1 288.2 271.7 290.3 272.1 291.7C272.5 293.1 272.6 293.8 272.4 294.9C272.1 295.9 271.5 296.6 270.8 296.8C270.2 296.9 269.5 296.8 269.1 295.5C268.7 294.2 268.5 291.9 268.8 290.4Z" fill="#B0E0E6"/>
<path d="M284.8 286.6C285.1 285.0 285.7 284.5 286.3 284.7C286.8 285.0 287.3 286.0 287.6 287.9C287.8 289.8 287.8 292.6 287.6 294.2C287.3 295.9 286.8 296.4 286.3 296.1C285.7 295.9 285.1 294.9 284.8 293.0C284.5 291.1 284.5 288.3 284.8 286.6Z" fill="#20B2AA"/>
<path d="M284.4 317.0C284.7 316.1 285.7 315.4 286.3 315.7C286.9 316.1 287.3 317.8 287.3 318.9C287.3 320.1 286.8 321.2 286.3 321.4C285.8 321.7 285.0 321.1 284.6 320.2C284.3 319.3 284.1 317.9 284.4 317.0Z" fill="#20B2AA"/>
<path d="M232.5 286.6C232.7 281.6 233.1 278.3 233.8 274.0C234.4 269.7 234.5 268.7 235.7 265.1C236.8 261.6 238.2 258.3 239.5 256.3C240.7 254.2 241.2 254.0 242.0 255.0C242.7 256.0 242.9 258.8 243.3 261.3C243.6 263.8 243.4 266.6 243.9 267.6C244.4 268.7 244.6 266.9 245.8 266.4C246.9 265.9 248.4 264.1 249.6 265.1C250.7 266.1 251.0 268.4 251.5 271.4C251.9 274.5 252.0 276.8 251.9 280.3C251.7 283.8 251.7 286.9 250.8 289.2C250.0 291.4 249.2 291.7 247.7 291.7C246.2 291.7 244.5 288.9 243.3 289.2C242.0 289.4 242.0 290.4 241.4 293.0C240.7 295.5 240.5 298.5 240.1 301.8C239.7 305.1 239.8 306.9 239.5 309.4C239.1 311.9 238.9 313.2 238.2 314.5C237.4 315.7 236.6 316.3 235.7 315.7C234.7 315.2 234.0 315.2 233.4 311.9C232.7 308.7 232.7 304.4 232.5 299.3C232.3 294.2 232.2 291.7 232.5 286.6Z" fill="#DEB887"/>
<path d="M233.4 291.7C233.6 287.4 234.3 282.1 235.0 277.8C235.7 273.5 236.0 273.0 236.9 270.2C237.8 267.4 238.5 265.9 239.5 263.8C240.4 261.8 241.1 259.3 241.7 260.1C242.4 260.8 242.6 264.1 242.6 267.6C242.7 271.2 242.2 274.0 242.0 277.8C241.7 281.6 241.7 283.1 241.4 286.6C241.0 290.2 240.6 291.9 240.1 295.5C239.6 299.0 239.5 301.6 238.8 304.4C238.2 307.1 237.7 308.9 236.9 309.4C236.2 309.9 235.7 308.9 235.0 306.9C234.4 304.9 234.1 302.3 233.8 299.3C233.4 296.3 233.1 296.0 233.4 291.7Z" fill="#FFE100"/>
<path d="M235.0 289.2C235.2 285.1 236.0 280.1 236.7 276.5C237.3 273.0 237.5 272.7 238.2 271.4C238.9 270.2 239.5 269.7 240.1 270.2C240.7 270.7 241.2 271.4 241.4 274.0C241.5 276.5 241.4 279.8 241.0 282.8C240.6 285.9 240.1 286.6 239.5 289.2C238.8 291.7 238.3 294.0 237.6 295.5C236.8 297.0 236.2 298.0 235.7 296.8C235.1 295.5 234.8 293.2 235.0 289.2Z" fill="#FFA500"/>
<path d="M237.2 276.5C237.5 274.7 238.2 274.0 238.8 274.0C239.4 274.0 239.8 275.0 240.1 276.5C240.3 278.0 240.3 279.8 240.1 281.6C239.8 283.3 239.4 285.1 238.8 285.4C238.3 285.6 237.6 284.6 237.3 282.8C237.0 281.1 236.9 278.3 237.2 276.5Z" fill="#FF4500"/>
<path d="M237.9 277.8C238.2 277.0 238.8 276.8 239.2 277.1C239.6 277.5 239.8 278.7 239.7 279.7C239.6 280.7 239.2 281.9 238.8 282.2C238.5 282.5 238.1 281.8 237.9 280.9C237.8 280.1 237.7 278.5 237.9 277.8Z" fill="#B22222"/>
<path d="M243.0 274.0C243.4 271.7 244.1 271.1 245.1 270.2C246.2 269.2 247.2 268.7 248.3 269.2C249.4 269.7 250.0 270.5 250.6 272.7C251.1 274.9 251.2 277.3 251.1 280.3C251.0 283.3 250.9 285.9 250.2 287.9C249.5 289.9 248.8 290.4 247.7 290.4C246.5 290.4 245.5 289.7 244.5 287.9C243.6 286.1 243.3 284.4 243.0 281.6C242.7 278.8 242.6 276.3 243.0 274.0Z" fill="#FFE100"/>
<path d="M243.9 275.2C244.2 273.3 244.8 272.8 245.8 272.1C246.7 271.4 247.7 271.1 248.6 271.7C249.5 272.3 249.9 273.0 250.2 275.2C250.6 277.5 250.7 280.4 250.3 282.8C250.0 285.2 249.5 286.5 248.6 287.3C247.7 288.0 246.7 287.8 245.8 286.6C244.9 285.5 244.4 283.8 244.0 281.6C243.6 279.3 243.5 277.1 243.9 275.2Z" fill="#FFA500"/>
<path d="M244.5 276.5C244.8 274.6 245.5 274.4 246.4 274.0C247.3 273.6 248.3 273.6 248.9 274.6C249.6 275.6 249.8 277.1 249.8 279.0C249.9 280.9 249.8 282.7 249.3 284.1C248.8 285.5 248.1 286.1 247.3 286.0C246.5 285.9 245.7 285.4 245.1 283.5C244.6 281.6 244.3 278.4 244.5 276.5Z" fill="#FF4500"/>
<path d="M245.5 277.1C245.8 275.8 246.6 275.5 247.3 275.5C248.0 275.5 248.7 276.1 249.1 277.1C249.5 278.2 249.5 279.7 249.3 280.9C249.1 282.2 248.7 283.2 248.1 283.5C247.4 283.7 246.5 283.5 246.0 282.2C245.5 280.9 245.3 278.5 245.5 277.1Z" fill="#B22222"/>
<path d="M247.3 277.8C247.6 277.3 248.2 277.2 248.6 277.5C248.9 277.8 249.0 278.7 248.9 279.3C248.8 279.8 248.4 280.2 248.1 280.3C247.7 280.4 247.5 280.2 247.3 279.7C247.1 279.2 247.0 278.2 247.3 277.8Z" fill="#FFB6C1"/>
<path d="M254.0 274.0C254.4 271.4 255.4 269.3 256.5 267.6C257.7 266.0 258.3 265.9 259.7 265.7C261.1 265.6 262.3 265.6 263.5 267.0C264.7 268.4 265.2 270.1 265.8 272.7C266.3 275.4 266.5 277.5 266.3 280.3C266.1 283.1 265.7 284.9 264.8 286.6C263.8 288.4 262.9 288.4 261.6 289.2C260.3 289.9 259.6 290.9 258.4 290.4C257.3 289.9 256.7 288.7 255.9 286.6C255.1 284.6 254.8 282.8 254.4 280.3C254.0 277.8 253.6 276.5 254.0 274.0Z" fill="#DEB887"/>
<path d="M255.3 276.5C255.6 274.7 256.5 273.3 257.2 271.4C257.9 269.5 258.1 267.3 258.7 267.0C259.3 266.8 259.5 269.5 260.3 270.2C261.2 270.8 261.9 269.2 262.9 270.2C263.8 271.2 264.6 272.7 265.0 275.2C265.5 277.8 265.5 280.4 265.0 282.8C264.6 285.2 263.9 286.0 262.9 287.3C261.8 288.5 260.8 289.5 259.7 289.2C258.6 288.8 258.0 287.1 257.2 285.4C256.4 283.6 256.0 282.1 255.7 280.3C255.3 278.5 255.0 278.3 255.3 276.5Z" fill="#FFE100"/>
<path d="M257.2 277.8C257.3 275.5 257.9 272.2 258.4 271.4C258.9 270.7 258.9 273.7 259.7 274.0C260.5 274.2 261.4 272.2 262.2 272.7C263.1 273.2 263.8 274.6 264.1 276.5C264.5 278.4 264.5 280.3 264.1 282.2C263.8 284.1 263.2 285.0 262.2 286.0C261.3 287.0 260.3 287.9 259.5 287.3C258.6 286.6 258.3 284.7 257.8 282.8C257.4 280.9 257.0 280.1 257.2 277.8Z" fill="#FFA500"/>
<path d="M260.0 277.1C260.3 275.9 260.9 275.0 261.6 275.0C262.3 275.0 262.9 276.1 263.3 277.1C263.6 278.2 263.7 279.0 263.5 280.3C263.4 281.6 263.0 282.8 262.5 283.5C261.9 284.2 261.2 284.4 260.7 283.8C260.2 283.3 260.1 282.3 260.0 280.9C259.8 279.6 259.6 278.3 260.0 277.1Z" fill="#FF4500"/>
<path d="M258.2 277.8C258.2 275.7 258.5 274.6 258.8 274.6C259.1 274.6 259.5 276.1 259.7 277.8C259.9 279.4 259.9 281.4 259.7 282.8C259.5 284.2 259.1 285.7 258.8 284.7C258.5 283.7 258.2 279.8 258.2 277.8Z" fill="#B22222"/>
<path d="M258.4 276.5C258.6 275.5 258.9 274.7 259.1 275.2C259.3 275.7 259.5 277.6 259.5 279.0C259.5 280.4 259.3 281.9 259.1 282.2C258.9 282.5 258.6 281.4 258.4 280.3C258.3 279.2 258.3 277.5 258.4 276.5Z" fill="#FF1493"/>
<path d="M243.9 304.4C244.5 301.8 245.5 301.3 246.4 301.8C247.3 302.3 247.8 303.8 248.3 306.9C248.8 309.9 248.9 313.7 248.9 317.0C248.9 320.3 249.2 322.1 248.3 323.3C247.4 324.6 245.5 325.1 244.5 323.3C243.5 321.6 243.4 318.3 243.3 314.5C243.1 310.7 243.3 306.9 243.9 304.4Z" fill="#DEB887"/>
<path d="M245.1 306.9L246.8 306.9L246.8 309.2L245.1 309.2Z" fill="#FFE100"/>
<path d="M225.5 289.2C226.0 287.9 227.2 287.4 228.1 287.9C228.9 288.4 229.7 289.9 230.0 291.7C230.2 293.5 230.0 295.5 229.3 296.8C228.7 298.0 227.6 298.5 226.8 298.0C226.0 297.5 225.8 296.0 225.5 294.2C225.3 292.5 225.0 290.4 225.5 289.2Z" fill="#DEB887"/>
<path d="M222.4 276.5L223.6 276.5L224.0 286.6L223.0 287.9Z" fill="#DEB887"/></g>
<clipPath id="k6"><rect x="282.20" y="196.00" width="47.00" height="130.00"/></clipPath><g clip-path="url(#k6)"><path d="M279.3 269.2L281.2 269.2L281.5 277.8L288.1 277.8L288.4 269.2L291.3 269.2L291.7 277.8L291.9 286.6L293.2 293.0L293.8 301.8L293.2 306.9L290.7 306.9L288.8 304.4L286.9 306.9L285.0 311.9L283.1 314.5L280.5 317.0L279.3 311.9L278.0 306.9L276.7 301.8L274.2 299.3L274.2 278.4L279.3 278.4Z" fill="#93BB32"/>
<path d="M295.1 278.4L297.0 278.4L297.2 285.4L296.0 286.6L295.1 285.4Z" fill="#93BB32"/>
<path d="M293.2 323.3L292.9 317.0L294.5 311.9L295.1 301.8L294.7 291.7L296.0 287.9L296.7 295.5L297.2 304.4L298.9 310.7L302.0 313.2L304.3 309.4L304.3 294.2L305.8 294.2L306.6 299.3L307.4 294.2L308.4 299.3L309.9 305.0L310.3 309.4L309.6 314.5L308.4 317.0L306.9 318.3L306.2 323.3Z" fill="#93BB32"/>
<path d="M277.4 305.0L279.3 305.6L279.0 309.4L277.4 310.1Z" fill="#93BB32"/>
<path d="M274.2 285.4C274.7 282.8 276.1 285.1 276.7 286.6C277.4 288.2 277.5 290.4 277.4 293.0C277.2 295.5 276.7 298.0 276.1 299.3C275.5 300.6 274.6 302.1 274.2 299.3C273.8 296.5 273.7 287.9 274.2 285.4Z" fill="#BEF060"/>
<path d="M281.8 286.6C282.3 284.1 283.3 283.8 284.3 282.8C285.3 281.8 286.0 280.8 286.9 281.6C287.7 282.3 288.1 284.1 288.8 286.6C289.4 289.2 289.5 291.4 290.0 294.2C290.5 297.0 291.3 298.5 291.3 300.6C291.3 302.6 290.8 304.6 290.0 304.4C289.3 304.1 288.4 300.6 287.5 299.3C286.6 298.0 286.4 297.8 285.6 298.0C284.8 298.3 284.5 301.1 283.7 300.6C282.9 300.1 282.2 298.3 281.8 295.5C281.4 292.7 281.3 289.2 281.8 286.6Z" fill="#BEF060"/>
<path d="M283.1 314.5C283.5 312.2 284.7 311.9 285.6 311.9C286.5 311.9 287.0 313.0 287.5 314.5C287.9 316.0 288.0 317.8 287.9 319.5C287.7 321.3 287.8 322.6 286.9 323.3C285.9 324.1 284.1 325.1 283.3 323.3C282.6 321.6 282.6 316.8 283.1 314.5Z" fill="#BEF060"/>
<path d="M284.6 286.6C284.8 284.6 285.6 284.5 286.2 284.7C286.8 285.0 287.2 286.3 287.5 287.9C287.7 289.5 287.7 291.3 287.5 293.0C287.3 294.6 287.1 295.7 286.6 296.1C286.1 296.5 285.4 296.8 285.0 294.9C284.6 293.0 284.3 288.7 284.6 286.6Z" fill="#20B2AA"/>
<path d="M288.4 299.9L290.0 299.9L290.0 301.8L288.4 301.8Z" fill="#20B2AA"/>
<path d="M284.1 317.0C284.4 316.0 285.6 315.5 286.2 315.7C286.8 316.0 287.0 317.3 287.1 318.3C287.2 319.3 287.1 320.3 286.6 320.8C286.1 321.3 285.1 321.6 284.6 320.8C284.1 320.1 283.7 318.0 284.1 317.0Z" fill="#20B2AA"/>
<path d="M286.2 305.0C286.5 303.5 287.9 303.5 288.8 304.4C289.6 305.2 290.0 307.4 290.7 309.4C291.3 311.4 291.8 312.7 291.9 314.5C292.0 316.3 291.8 317.8 291.3 318.3C290.8 318.8 290.1 318.3 289.4 317.0C288.6 315.7 288.1 314.4 287.5 311.9C286.9 309.5 286.0 306.5 286.2 305.0Z" fill="#DEB887"/>
<path d="M286.9 306.9L288.4 306.9L288.4 308.8L286.9 308.8Z" fill="#FFE100"/>
<path d="M275.5 313.2C276.0 312.3 277.1 311.8 278.0 312.6C278.9 313.3 279.4 314.9 279.9 317.0C280.4 319.2 281.3 322.1 280.5 323.3C279.8 324.6 277.2 324.6 276.1 323.3C275.0 322.1 275.3 319.0 275.2 317.0C275.1 315.0 274.9 314.1 275.5 313.2Z" fill="#DEB887"/>
<path d="M297.6 295.5C298.1 294.1 298.8 293.3 299.5 293.6C300.3 293.8 301.0 294.9 301.4 296.8C301.9 298.7 302.0 301.1 301.8 303.1C301.5 305.1 300.9 306.5 300.1 306.9C299.4 307.3 298.8 306.3 298.3 305.0C297.7 303.7 297.4 302.5 297.2 300.6C297.1 298.7 297.2 296.9 297.6 295.5Z" fill="#DEB887"/>
<path d="M298.5 298.7C298.8 297.8 299.4 297.1 299.9 297.4C300.4 297.6 300.9 298.8 301.0 299.9C301.2 301.1 301.1 302.2 300.8 303.1C300.4 304.0 299.7 304.6 299.3 304.4C298.8 304.1 298.7 303.0 298.5 301.8C298.4 300.7 298.2 299.5 298.5 298.7Z" fill="#FFE100"/>
<path d="M321.7 286.6L324.8 286.6L324.8 323.3L316.0 323.3L317.0 314.5L318.5 304.4L320.0 294.2Z" fill="#fff"/></g>
</g>
<rect x="93.7" y="93.5" width="229.70" height="229.40" fill="none" stroke="#000" stroke-width="1.3"/>
<path d="M93.70 322.9v7 M93.70 93.5v-7 M131.98 322.9v7 M131.98 93.5v-7 M170.27 322.9v7 M170.27 93.5v-7 M208.55 322.9v7 M208.55 93.5v-7 M246.83 322.9v7 M246.83 93.5v-7 M285.12 322.9v7 M285.12 93.5v-7 M323.40 322.9v7 M323.40 93.5v-7 M93.7 93.50h-7 M93.7 135.28h-7 M93.7 164.92h-7 M93.7 187.91h-7 M93.7 206.69h-7 M93.7 236.34h-7 M93.7 259.33h-7 M93.7 294.00h-7 M93.7 314.00h-7 M323.4 96.90h7 M323.4 161.90h7 M323.4 224.80h7 M323.4 281.40h7" stroke="#000" stroke-width="1.35" fill="none"/>
<path d="M106.46 322.9v3.7 M106.46 93.5v-3.7 M119.22 322.9v3.7 M119.22 93.5v-3.7 M144.74 322.9v3.7 M144.74 93.5v-3.7 M157.51 322.9v3.7 M157.51 93.5v-3.7 M183.03 322.9v3.7 M183.03 93.5v-3.7 M195.79 322.9v3.7 M195.79 93.5v-3.7 M221.31 322.9v3.7 M221.31 93.5v-3.7 M234.07 322.9v3.7 M234.07 93.5v-3.7 M259.59 322.9v3.7 M259.59 93.5v-3.7 M272.36 322.9v3.7 M272.36 93.5v-3.7 M297.88 322.9v3.7 M297.88 93.5v-3.7 M310.64 322.9v3.7 M310.64 93.5v-3.7" stroke="#000" stroke-width="0.75" fill="none"/>
<text x="81.9" y="96.40" font-size="8.2" text-anchor="end">100</text>
<text x="81.9" y="138.18" font-size="8.2" text-anchor="end">150</text>
<text x="81.9" y="167.82" font-size="8.2" text-anchor="end">200</text>
<text x="81.9" y="190.81" font-size="8.2" text-anchor="end">250</text>
<text x="81.9" y="209.59" font-size="8.2" text-anchor="end">300</text>
<text x="81.9" y="239.24" font-size="8.2" text-anchor="end">400</text>
<text x="81.9" y="262.23" font-size="8.2" text-anchor="end">500</text>
<text x="81.9" y="296.90" font-size="8.2" text-anchor="end">700</text>
<text x="81.9" y="316.90" font-size="8.2" text-anchor="end">850</text>
<text x="335" y="99.80" font-size="8.2">16</text>
<text x="335" y="164.80" font-size="8.2">12</text>
<text x="335" y="227.70" font-size="8.2">8</text>
<text x="335" y="284.30" font-size="8.2">4</text>
<text x="93.70" y="341.7" font-size="8.8" text-anchor="middle">90N</text>
<text x="131.98" y="341.7" font-size="8.8" text-anchor="middle">60N</text>
<text x="170.27" y="341.7" font-size="8.8" text-anchor="middle">30N</text>
<text x="208.55" y="341.7" font-size="8.8" text-anchor="middle">0</text>
<text x="246.83" y="341.7" font-size="8.8" text-anchor="middle">30S</text>
<text x="285.12" y="341.7" font-size="8.8" text-anchor="middle">60S</text>
<text x="323.40" y="341.7" font-size="8.8" text-anchor="middle">90S</text>
<text transform="translate(56.4,208.5) rotate(-90)" font-size="13.1" text-anchor="middle">Pressure (mb)</text>
<text transform="translate(359.3,208.3) rotate(-90)" font-size="13.1" text-anchor="middle">Height (km)</text>
<text x="208.55" y="64" font-size="13.2" text-anchor="middle">f2000c5_ne30_subtree - f2000c5_ne30_master</text>
<text x="93.7" y="83" font-size="12.05" text-anchor="start">Avg. Rain Mixing Ratio</text>
<text x="324.0" y="83" font-size="12.05" text-anchor="end">mg/kg</text>
</g>
<g transform="translate(0.00,0.00)">
<rect x="97.10" y="365.1" width="13.92" height="20.40" fill="#9370DB" stroke="#000" stroke-width="0.5"/>
<rect x="111.02" y="365.1" width="13.92" height="20.40" fill="#0000C8" stroke="#000" stroke-width="0.5"/>
<rect x="124.95" y="365.1" width="13.92" height="20.40" fill="#3C64E6" stroke="#000" stroke-width="0.5"/>
<rect x="138.88" y="365.1" width="13.92" height="20.40" fill="#789BF2" stroke="#000" stroke-width="0.5"/>
<rect x="152.80" y="365.1" width="13.92" height="20.40" fill="#B0E0E6" stroke="#000" stroke-width="0.5"/>
<rect x="166.72" y="365.1" width="13.92" height="20.40" fill="#20B2AA" stroke="#000" stroke-width="0.5"/>
<rect x="180.65" y="365.1" width="13.92" height="20.40" fill="#BEF060" stroke="#000" stroke-width="0.5"/>
<rect x="194.57" y="365.1" width="13.92" height="20.40" fill="#93BB32" stroke="#000" stroke-width="0.5"/>
<rect x="208.50" y="365.1" width="13.92" height="20.40" fill="#F5E6BE" stroke="#000" stroke-width="0.5"/>
<rect x="222.42" y="365.1" width="13.92" height="20.40" fill="#DEB887" stroke="#000" stroke-width="0.5"/>
<rect x="236.35" y="365.1" width="13.92" height="20.40" fill="#FFE100" stroke="#000" stroke-width="0.5"/>
<rect x="250.27" y="365.1" width="13.92" height="20.40" fill="#FFA500" stroke="#000" stroke-width="0.5"/>
<rect x="264.20" y="365.1" width="13.92" height="20.40" fill="#FF4500" stroke="#000" stroke-width="0.5"/>
<rect x="278.12" y="365.1" width="13.92" height="20.40" fill="#B22222" stroke="#000" stroke-width="0.5"/>
<rect x="292.05" y="365.1" width="13.92" height="20.40" fill="#FFB6C1" stroke="#000" stroke-width="0.5"/>
<rect x="305.97" y="365.1" width="13.92" height="20.40" fill="#FF1493" stroke="#000" stroke-width="0.5"/>
<text x="111.02" y="398.1" font-size="9.1" text-anchor="middle">1</text>
<text x="138.88" y="398.1" font-size="9.1" text-anchor="middle">10</text>
<text x="166.72" y="398.1" font-size="9.1" text-anchor="middle">20</text>
<text x="194.57" y="398.1" font-size="9.1" text-anchor="middle">30</text>
<text x="222.42" y="398.1" font-size="9.1" text-anchor="middle">40</text>
<text x="250.27" y="398.1" font-size="9.1" text-anchor="middle">50</text>
<text x="278.12" y="398.1" font-size="9.1" text-anchor="middle">60</text>
<text x="305.97" y="398.1" font-size="9.1" text-anchor="middle">70</text>
</g>
<g transform="translate(322.00,0.00)">
<rect x="97.10" y="365.1" width="13.92" height="20.40" fill="#9370DB" stroke="#000" stroke-width="0.5"/>
<rect x="111.02" y="365.1" width="13.92" height="20.40" fill="#0000C8" stroke="#000" stroke-width="0.5"/>
<rect x="124.95" y="365.1" width="13.92" height="20.40" fill="#3C64E6" stroke="#000" stroke-width="0.5"/>
<rect x="138.88" y="365.1" width="13.92" height="20.40" fill="#789BF2" stroke="#000" stroke-width="0.5"/>
<rect x="152.80" y="365.1" width="13.92" height="20.40" fill="#B0E0E6" stroke="#000" stroke-width="0.5"/>
<rect x="166.72" y="365.1" width="13.92" height="20.40" fill="#20B2AA" stroke="#000" stroke-width="0.5"/>
<rect x="180.65" y="365.1" width="13.92" height="20.40" fill="#BEF060" stroke="#000" stroke-width="0.5"/>
<rect x="194.57" y="365.1" width="13.92" height="20.40" fill="#93BB32" stroke="#000" stroke-width="0.5"/>
<rect x="208.50" y="365.1" width="13.92" height="20.40" fill="#F5E6BE" stroke="#000" stroke-width="0.5"/>
<rect x="222.42" y="365.1" width="13.92" height="20.40" fill="#DEB887" stroke="#000" stroke-width="0.5"/>
<rect x="236.35" y="365.1" width="13.92" height="20.40" fill="#FFE100" stroke="#000" stroke-width="0.5"/>
<rect x="250.27" y="365.1" width="13.92" height="20.40" fill="#FFA500" stroke="#000" stroke-width="0.5"/>
<rect x="264.20" y="365.1" width="13.92" height="20.40" fill="#FF4500" stroke="#000" stroke-width="0.5"/>
<rect x="278.12" y="365.1" width="13.92" height="20.40" fill="#B22222" stroke="#000" stroke-width="0.5"/>
<rect x="292.05" y="365.1" width="13.92" height="20.40" fill="#FFB6C1" stroke="#000" stroke-width="0.5"/>
<rect x="305.97" y="365.1" width="13.92" height="20.40" fill="#FF1493" stroke="#000" stroke-width="0.5"/>
<text x="111.02" y="398.1" font-size="9.1" text-anchor="middle">1</text>
<text x="138.88" y="398.1" font-size="9.1" text-anchor="middle">10</text>
<text x="166.72" y="398.1" font-size="9.1" text-anchor="middle">20</text>
<text x="194.57" y="398.1" font-size="9.1" text-anchor="middle">30</text>
<text x="222.42" y="398.1" font-size="9.1" text-anchor="middle">40</text>
<text x="250.27" y="398.1" font-size="9.1" text-anchor="middle">50</text>
<text x="278.12" y="398.1" font-size="9.1" text-anchor="middle">60</text>
<text x="305.97" y="398.1" font-size="9.1" text-anchor="middle">70</text>
</g>
<rect x="558.6" y="672.97" width="22.199999999999932" height="11.53" fill="#9370DB" stroke="#000" stroke-width="0.5"/>
<rect x="558.6" y="661.44" width="22.199999999999932" height="11.53" fill="#0000C8" stroke="#000" stroke-width="0.5"/>
<rect x="558.6" y="649.91" width="22.199999999999932" height="11.53" fill="#3C64E6" stroke="#000" stroke-width="0.5"/>
<rect x="558.6" y="638.38" width="22.199999999999932" height="11.53" fill="#789BF2" stroke="#000" stroke-width="0.5"/>
<rect x="558.6" y="626.84" width="22.199999999999932" height="11.53" fill="#B0E0E6" stroke="#000" stroke-width="0.5"/>
<rect x="558.6" y="615.31" width="22.199999999999932" height="11.53" fill="#20B2AA" stroke="#000" stroke-width="0.5"/>
<rect x="558.6" y="603.78" width="22.199999999999932" height="11.53" fill="#BEF060" stroke="#000" stroke-width="0.5"/>
<rect x="558.6" y="592.25" width="22.199999999999932" height="11.53" fill="#93BB32" stroke="#000" stroke-width="0.5"/>
<rect x="558.6" y="580.72" width="22.199999999999932" height="11.53" fill="#F5E6BE" stroke="#000" stroke-width="0.5"/>
<rect x="558.6" y="569.19" width="22.199999999999932" height="11.53" fill="#DEB887" stroke="#000" stroke-width="0.5"/>
<rect x="558.6" y="557.66" width="22.199999999999932" height="11.53" fill="#FFE100" stroke="#000" stroke-width="0.5"/>
<rect x="558.6" y="546.12" width="22.199999999999932" height="11.53" fill="#FFA500" stroke="#000" stroke-width="0.5"/>
<rect x="558.6" y="534.59" width="22.199999999999932" height="11.53" fill="#FF4500" stroke="#000" stroke-width="0.5"/>
<rect x="558.6" y="523.06" width="22.199999999999932" height="11.53" fill="#B22222" stroke="#000" stroke-width="0.5"/>
<rect x="558.6" y="511.53" width="22.199999999999932" height="11.53" fill="#FFB6C1" stroke="#000" stroke-width="0.5"/>
<rect x="558.6" y="500.00" width="22.199999999999932" height="11.53" fill="#FF1493" stroke="#000" stroke-width="0.5"/>
<text x="585.6" y="676.37" font-size="9.2">-7</text>
<text x="585.6" y="664.84" font-size="9.2">-6</text>
<text x="585.6" y="653.31" font-size="9.2">-5</text>
<text x="585.6" y="641.77" font-size="9.2">-4</text>
<text x="585.6" y="630.24" font-size="9.2">-3</text>
<text x="585.6" y="618.71" font-size="9.2">-2</text>
<text x="585.6" y="607.18" font-size="9.2">-1</text>
<text x="585.6" y="595.65" font-size="9.2">0</text>
<text x="585.6" y="584.12" font-size="9.2">1</text>
<text x="585.6" y="572.59" font-size="9.2">2</text>
<text x="585.6" y="561.06" font-size="9.2">3</text>
<text x="585.6" y="549.52" font-size="9.2">4</text>
<text x="585.6" y="537.99" font-size="9.2">5</text>
<text x="585.6" y="526.46" font-size="9.2">6</text>
<text x="585.6" y="514.93" font-size="9.2">7</text>
<text x="144.9" y="353.5" font-size="10.5" xml:space="preserve">MIN =   0.00  MAX =  55.82</text>
<text x="466.9" y="353.5" font-size="10.5" xml:space="preserve">MIN =   0.00  MAX =  57.00</text>
<text x="513" y="480" font-size="10.5" xml:space="preserve">MIN =  -5.78  MAX =   9.16</text>
</svg>
</body>
</html>
